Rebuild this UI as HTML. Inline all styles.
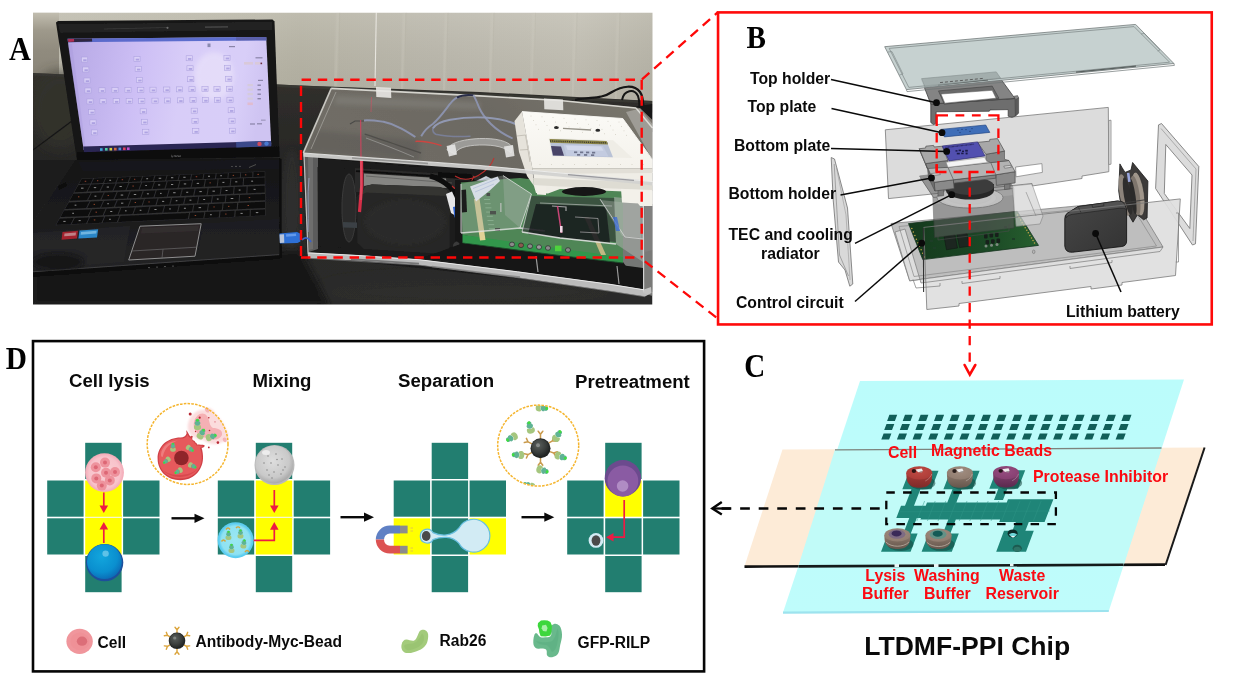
<!DOCTYPE html>
<html>
<head>
<meta charset="utf-8">
<title>LTDMF-PPI figure</title>
<style>
html,body{margin:0;padding:0;background:#fff;}
body{width:1241px;height:683px;overflow:hidden;font-family:"Liberation Sans",sans-serif;}
svg{display:block;}
.sb{font-family:"Liberation Serif",serif;font-weight:bold;fill:#000;}
.lb{font-family:"Liberation Sans",sans-serif;font-weight:bold;fill:#0a0a0a;font-size:15.75px;}
.lr{font-family:"Liberation Sans",sans-serif;font-weight:bold;fill:#fb0a12;font-size:15.9px;}
.hd{font-family:"Liberation Sans",sans-serif;font-weight:bold;fill:#0a0a0a;font-size:18.63px;}
.lg{font-family:"Liberation Sans",sans-serif;font-weight:bold;fill:#0a0a0a;font-size:15.6px;}
</style>
</head>
<body>
<svg width="1241" height="683" viewBox="0 0 1241 683">
<defs>
<filter id="b1" x="-10%" y="-10%" width="120%" height="120%"><feGaussianBlur stdDeviation="0.6"/></filter>
<filter id="b2" x="-10%" y="-10%" width="120%" height="120%"><feGaussianBlur stdDeviation="1.2"/></filter>
<filter id="b3" x="-20%" y="-20%" width="140%" height="140%"><feGaussianBlur stdDeviation="2.5"/></filter>
<filter id="b6" x="-30%" y="-30%" width="160%" height="160%"><feGaussianBlur stdDeviation="6"/></filter>
<filter id="bA" x="0" y="0" width="100%" height="100%" filterUnits="userSpaceOnUse"><feGaussianBlur stdDeviation="0.55"/></filter>
<clipPath id="photoClip"><rect x="33" y="12.5" width="619.5" height="292"/></clipPath>
</defs>
<rect x="0" y="0" width="1241" height="683" fill="#ffffff"/>
<g id="panelA" clip-path="url(#photoClip)"><g filter="url(#bA)">
<defs>
<linearGradient id="wallG" x1="0" y1="0" x2="1" y2="0"><stop offset="0" stop-color="#c0bdaf"/><stop offset="0.38" stop-color="#bab7a8"/><stop offset="0.43" stop-color="#b7b4a5"/><stop offset="0.65" stop-color="#bcb9ad"/><stop offset="0.88" stop-color="#c3c0b4"/><stop offset="1" stop-color="#b9b6a9"/></linearGradient>
<linearGradient id="wallL" x1="0" y1="0" x2="0" y2="1"><stop offset="0" stop-color="#c2beb0"/><stop offset="0.28" stop-color="#9e998b"/><stop offset="0.6" stop-color="#908b7e"/><stop offset="1" stop-color="#8a8578"/></linearGradient>
<linearGradient id="wallV" x1="0" y1="0" x2="0" y2="1"><stop offset="0" stop-color="#ffffff" stop-opacity="0.10"/><stop offset="1" stop-color="#000000" stop-opacity="0.05"/></linearGradient>
<linearGradient id="tableG" x1="0" y1="0" x2="0" y2="1"><stop offset="0" stop-color="#32302c"/><stop offset="0.4" stop-color="#262625"/><stop offset="1" stop-color="#2b2b2a"/></linearGradient>
<linearGradient id="scrG" x1="0" y1="0" x2="1" y2="0.1"><stop offset="0" stop-color="#b6a8e4"/><stop offset="0.17" stop-color="#c0b2ec"/><stop offset="0.37" stop-color="#cdbff5"/><stop offset="0.6" stop-color="#d8cdf8"/><stop offset="0.88" stop-color="#d8cef8"/><stop offset="1" stop-color="#cfc4f2"/></linearGradient>
<linearGradient id="baseG" x1="0" y1="0" x2="0" y2="1"><stop offset="0" stop-color="#141416"/><stop offset="0.6" stop-color="#1d1d1f"/><stop offset="1" stop-color="#242426"/></linearGradient>
<linearGradient id="lidTop" x1="0" y1="0.3" x2="1" y2="0"><stop offset="0" stop-color="#706d66"/><stop offset="0.5" stop-color="#6c6962"/><stop offset="1" stop-color="#7b786f"/></linearGradient>
<linearGradient id="holdG" x1="0" y1="0" x2="0" y2="1"><stop offset="0" stop-color="#fbfaf6"/><stop offset="1" stop-color="#f4f2ec"/></linearGradient>
</defs>
<rect x="33" y="12.5" width="620" height="100" fill="url(#wallG)"/>
<rect x="33" y="12.5" width="620" height="100" fill="url(#wallV)"/>
<rect x="33" y="12.5" width="26" height="64" fill="url(#wallL)"/>
<line x1="338.1" y1="12" x2="335.1" y2="100" stroke="#cfccc1" stroke-width="2.4" opacity="0.45" filter="url(#b2)"/>
<line x1="339.8" y1="12" x2="336.8" y2="100" stroke="#b0ad9f" stroke-width="1.4" opacity="0.16" filter="url(#b1)"/>
<line x1="404.5" y1="12" x2="401.5" y2="100" stroke="#cfccc1" stroke-width="2.4" opacity="0.45" filter="url(#b2)"/>
<line x1="406.2" y1="12" x2="403.2" y2="100" stroke="#b0ad9f" stroke-width="1.4" opacity="0.16" filter="url(#b1)"/>
<line x1="446.5" y1="12" x2="443.5" y2="100" stroke="#cfccc1" stroke-width="2.4" opacity="0.45" filter="url(#b2)"/>
<line x1="448.2" y1="12" x2="445.2" y2="100" stroke="#b0ad9f" stroke-width="1.4" opacity="0.16" filter="url(#b1)"/>
<line x1="492.5" y1="12" x2="489.5" y2="100" stroke="#cfccc1" stroke-width="2.4" opacity="0.45" filter="url(#b2)"/>
<line x1="494.2" y1="12" x2="491.2" y2="100" stroke="#b0ad9f" stroke-width="1.4" opacity="0.16" filter="url(#b1)"/>
<line x1="534.0" y1="12" x2="531.0" y2="100" stroke="#cfccc1" stroke-width="2.4" opacity="0.45" filter="url(#b2)"/>
<line x1="535.7" y1="12" x2="532.7" y2="100" stroke="#b0ad9f" stroke-width="1.4" opacity="0.16" filter="url(#b1)"/>
<line x1="575.5" y1="12" x2="572.5" y2="100" stroke="#cfccc1" stroke-width="2.4" opacity="0.45" filter="url(#b2)"/>
<line x1="577.2" y1="12" x2="574.2" y2="100" stroke="#b0ad9f" stroke-width="1.4" opacity="0.16" filter="url(#b1)"/>
<line x1="618.5" y1="12" x2="615.5" y2="100" stroke="#cfccc1" stroke-width="2.4" opacity="0.45" filter="url(#b2)"/>
<line x1="620.2" y1="12" x2="617.2" y2="100" stroke="#b0ad9f" stroke-width="1.4" opacity="0.16" filter="url(#b1)"/>
<path d="M376.3 12.0 L375.0 86.0" fill="none" stroke="#eceae4" stroke-width="1.1" opacity="0.9" />
<path d="M33.0 73.0 L120.0 77.0 L300.0 85.5 L480.0 92.0 L652.5 101.0 L652.5 305.0 L33.0 305.0 Z" fill="url(#tableG)" />
<path d="M33.0 73.0 L300.0 85.5 L652.5 101.0 L652.5 103.5 L300.0 88.0 L33.0 75.5 Z" fill="#3a3936" opacity="0.8" />
<path d="M33.0 262.0 L300.0 250.0 L330.0 305.0 L33.0 305.0 Z" fill="#161616" opacity="0.85" filter="url(#b3)"/>
<ellipse cx="470" cy="292" rx="150" ry="16" fill="#3a3a3a" opacity="0.18" filter="url(#b6)"/>
<ellipse cx="60" cy="110" rx="30" ry="40" fill="#35342f" opacity="0.6" filter="url(#b6)"/>
<ellipse cx="292" cy="200" rx="10" ry="50" fill="#303030" opacity="0.6" filter="url(#b3)"/>
<path d="M628.0 108.0 L652.5 104.0 L652.5 132.0 L640.0 134.0 L631.0 122.0 Z" fill="#151515" />
<path d="M575 100 C590 96 600 100 612 92 C622 86 634 84 640 92 C646 100 640 112 648 118" fill="none" stroke="#141414" stroke-width="2.2"/>
<path d="M622 100 C624 90 634 88 638 96 C642 108 636 118 642 128" fill="none" stroke="#141414" stroke-width="2"/>
<path d="M56.0 22.5 L58.0 21.0 L272.5 19.5 L274.5 21.5 L279.5 157.0 L77.0 160.5 Z" fill="#131313" />
<path d="M58.0 24.0 L272.0 21.5 L272.6 30.0 L60.0 33.0 Z" fill="#262626" opacity="0.7" />
<path d="M104.0 29.0 L168.0 27.5" fill="none" stroke="#3c3c3c" stroke-width="1.2" opacity="0.8" />
<path d="M205.0 27.2 L228.0 26.8" fill="none" stroke="#5a5a5a" stroke-width="1.2" opacity="0.8" />
<circle cx="167.5" cy="27.8" r="1.1" fill="#6a6a6a"/>
<path d="M67.5 38.7 L266.2 37.0 L271.2 144.5 L83.7 150.0 Z" fill="url(#scrG)" />
<path d="M67.5 38.7 L266.2 37.0 L266.4 40.4 L68.0 42.2 Z" fill="#4f63c8" opacity="0.9" />
<path d="M67.5 38.7 L92.0 38.5 L92.2 41.6 L68.0 42.2 Z" fill="#2a2030" opacity="0.9" />
<path d="M68.0 39.0 L74.0 38.9 L74.2 41.6 L68.3 41.9 Z" fill="#c0305a" opacity="0.9" />
<path d="M236.0 37.3 L266.2 37.0 L266.4 40.2 L236.2 40.5 Z" fill="#5a5a9a" opacity="0.7" />
<ellipse cx="214" cy="76" rx="20" ry="24" fill="#efe8fb" opacity="0.55" filter="url(#b3)"/>
<path d="M67.8 44.0 L72.0 44.0 L86.0 150.0 L83.7 150.0 Z" fill="#a596da" opacity="0.35" filter="url(#b1)"/>
<path d="M83.2 146.6 L271.0 141.0 L271.3 146.3 L83.9 152.3 Z" fill="#2c2552" />
<path d="M236.0 142.0 L271.0 141.0 L271.3 146.3 L236.3 147.4 Z" fill="#3a4a8a" />
<circle cx="259.5" cy="143.9" r="2.2" fill="#d04a5a"/><circle cx="266.5" cy="143.6" r="2.2" fill="#4a7ad0"/>
<rect x="100.0" y="148.2" width="2.6" height="2.6" fill="#3fa7d6"/>
<rect x="105.0" y="148.0" width="2.6" height="2.6" fill="#4fd0a0"/>
<rect x="109.5" y="147.9" width="2.6" height="2.6" fill="#d0d040"/>
<rect x="114.0" y="147.8" width="2.6" height="2.6" fill="#d06a40"/>
<rect x="118.5" y="147.6" width="2.6" height="2.6" fill="#5090e0"/>
<rect x="123.0" y="147.5" width="2.6" height="2.6" fill="#e04060"/>
<rect x="127.0" y="147.4" width="2.6" height="2.6" fill="#c050d0"/>
<g opacity="0.85"><rect x="81.40" y="57.00" width="6.2" height="5" fill="#ddd4f8" stroke="#a89ddc" stroke-width="0.6"/><rect x="83.20" y="59.30" width="3.4" height="1.8" fill="#a99ee0"/><rect x="133.90" y="56.37" width="6.2" height="5" fill="#ddd4f8" stroke="#a89ddc" stroke-width="0.6"/><rect x="135.70" y="58.67" width="3.4" height="1.8" fill="#a99ee0"/><rect x="186.15" y="55.74" width="6.2" height="5" fill="#ddd4f8" stroke="#a89ddc" stroke-width="0.6"/><rect x="187.95" y="58.04" width="3.4" height="1.8" fill="#a99ee0"/><rect x="223.90" y="55.29" width="6.2" height="5" fill="#ddd4f8" stroke="#a89ddc" stroke-width="0.6"/><rect x="225.70" y="57.59" width="3.4" height="1.8" fill="#a99ee0"/><rect x="82.65" y="66.98" width="6.2" height="5" fill="#ddd4f8" stroke="#a89ddc" stroke-width="0.6"/><rect x="84.45" y="69.28" width="3.4" height="1.8" fill="#a99ee0"/><rect x="135.15" y="66.36" width="6.2" height="5" fill="#ddd4f8" stroke="#a89ddc" stroke-width="0.6"/><rect x="136.95" y="68.66" width="3.4" height="1.8" fill="#a99ee0"/><rect x="186.90" y="65.73" width="6.2" height="5" fill="#ddd4f8" stroke="#a89ddc" stroke-width="0.6"/><rect x="188.70" y="68.03" width="3.4" height="1.8" fill="#a99ee0"/><rect x="224.40" y="65.28" width="6.2" height="5" fill="#ddd4f8" stroke="#a89ddc" stroke-width="0.6"/><rect x="226.20" y="67.58" width="3.4" height="1.8" fill="#a99ee0"/><rect x="83.90" y="77.97" width="6.2" height="5" fill="#ddd4f8" stroke="#a89ddc" stroke-width="0.6"/><rect x="85.70" y="80.27" width="3.4" height="1.8" fill="#a99ee0"/><rect x="136.40" y="77.34" width="6.2" height="5" fill="#ddd4f8" stroke="#a89ddc" stroke-width="0.6"/><rect x="138.20" y="79.64" width="3.4" height="1.8" fill="#a99ee0"/><rect x="187.65" y="76.72" width="6.2" height="5" fill="#ddd4f8" stroke="#a89ddc" stroke-width="0.6"/><rect x="189.45" y="79.02" width="3.4" height="1.8" fill="#a99ee0"/><rect x="225.65" y="76.27" width="6.2" height="5" fill="#ddd4f8" stroke="#a89ddc" stroke-width="0.6"/><rect x="227.45" y="78.57" width="3.4" height="1.8" fill="#a99ee0"/><rect x="84.90" y="87.96" width="6.2" height="5" fill="#ddd4f8" stroke="#a89ddc" stroke-width="0.6"/><rect x="86.70" y="90.26" width="3.4" height="1.8" fill="#a99ee0"/><rect x="98.90" y="87.79" width="6.2" height="5" fill="#ddd4f8" stroke="#a89ddc" stroke-width="0.6"/><rect x="100.70" y="90.09" width="3.4" height="1.8" fill="#a99ee0"/><rect x="111.90" y="87.63" width="6.2" height="5" fill="#ddd4f8" stroke="#a89ddc" stroke-width="0.6"/><rect x="113.70" y="89.93" width="3.4" height="1.8" fill="#a99ee0"/><rect x="124.90" y="87.48" width="6.2" height="5" fill="#ddd4f8" stroke="#a89ddc" stroke-width="0.6"/><rect x="126.70" y="89.78" width="3.4" height="1.8" fill="#a99ee0"/><rect x="137.65" y="87.33" width="6.2" height="5" fill="#ddd4f8" stroke="#a89ddc" stroke-width="0.6"/><rect x="139.45" y="89.62" width="3.4" height="1.8" fill="#a99ee0"/><rect x="149.90" y="87.18" width="6.2" height="5" fill="#ddd4f8" stroke="#a89ddc" stroke-width="0.6"/><rect x="151.70" y="89.48" width="3.4" height="1.8" fill="#a99ee0"/><rect x="163.65" y="87.01" width="6.2" height="5" fill="#ddd4f8" stroke="#a89ddc" stroke-width="0.6"/><rect x="165.45" y="89.31" width="3.4" height="1.8" fill="#a99ee0"/><rect x="176.40" y="86.86" width="6.2" height="5" fill="#ddd4f8" stroke="#a89ddc" stroke-width="0.6"/><rect x="178.20" y="89.16" width="3.4" height="1.8" fill="#a99ee0"/><rect x="188.90" y="86.71" width="6.2" height="5" fill="#ddd4f8" stroke="#a89ddc" stroke-width="0.6"/><rect x="190.70" y="89.01" width="3.4" height="1.8" fill="#a99ee0"/><rect x="201.90" y="86.55" width="6.2" height="5" fill="#ddd4f8" stroke="#a89ddc" stroke-width="0.6"/><rect x="203.70" y="88.85" width="3.4" height="1.8" fill="#a99ee0"/><rect x="213.90" y="86.41" width="6.2" height="5" fill="#ddd4f8" stroke="#a89ddc" stroke-width="0.6"/><rect x="215.70" y="88.71" width="3.4" height="1.8" fill="#a99ee0"/><rect x="226.40" y="86.26" width="6.2" height="5" fill="#ddd4f8" stroke="#a89ddc" stroke-width="0.6"/><rect x="228.20" y="88.56" width="3.4" height="1.8" fill="#a99ee0"/><rect x="86.90" y="98.93" width="6.2" height="5" fill="#ddd4f8" stroke="#a89ddc" stroke-width="0.6"/><rect x="88.70" y="101.23" width="3.4" height="1.8" fill="#a99ee0"/><rect x="99.90" y="98.78" width="6.2" height="5" fill="#ddd4f8" stroke="#a89ddc" stroke-width="0.6"/><rect x="101.70" y="101.08" width="3.4" height="1.8" fill="#a99ee0"/><rect x="113.15" y="98.62" width="6.2" height="5" fill="#ddd4f8" stroke="#a89ddc" stroke-width="0.6"/><rect x="114.95" y="100.92" width="3.4" height="1.8" fill="#a99ee0"/><rect x="126.15" y="98.46" width="6.2" height="5" fill="#ddd4f8" stroke="#a89ddc" stroke-width="0.6"/><rect x="127.95" y="100.76" width="3.4" height="1.8" fill="#a99ee0"/><rect x="138.65" y="98.31" width="6.2" height="5" fill="#ddd4f8" stroke="#a89ddc" stroke-width="0.6"/><rect x="140.45" y="100.61" width="3.4" height="1.8" fill="#a99ee0"/><rect x="151.90" y="98.15" width="6.2" height="5" fill="#ddd4f8" stroke="#a89ddc" stroke-width="0.6"/><rect x="153.70" y="100.45" width="3.4" height="1.8" fill="#a99ee0"/><rect x="164.40" y="98.00" width="6.2" height="5" fill="#ddd4f8" stroke="#a89ddc" stroke-width="0.6"/><rect x="166.20" y="100.30" width="3.4" height="1.8" fill="#a99ee0"/><rect x="177.40" y="97.85" width="6.2" height="5" fill="#ddd4f8" stroke="#a89ddc" stroke-width="0.6"/><rect x="179.20" y="100.15" width="3.4" height="1.8" fill="#a99ee0"/><rect x="189.90" y="97.70" width="6.2" height="5" fill="#ddd4f8" stroke="#a89ddc" stroke-width="0.6"/><rect x="191.70" y="100.00" width="3.4" height="1.8" fill="#a99ee0"/><rect x="202.40" y="97.55" width="6.2" height="5" fill="#ddd4f8" stroke="#a89ddc" stroke-width="0.6"/><rect x="204.20" y="99.85" width="3.4" height="1.8" fill="#a99ee0"/><rect x="214.40" y="97.40" width="6.2" height="5" fill="#ddd4f8" stroke="#a89ddc" stroke-width="0.6"/><rect x="216.20" y="99.70" width="3.4" height="1.8" fill="#a99ee0"/><rect x="226.90" y="97.25" width="6.2" height="5" fill="#ddd4f8" stroke="#a89ddc" stroke-width="0.6"/><rect x="228.70" y="99.55" width="3.4" height="1.8" fill="#a99ee0"/><rect x="88.65" y="109.41" width="6.2" height="5" fill="#ddd4f8" stroke="#a89ddc" stroke-width="0.6"/><rect x="90.45" y="111.71" width="3.4" height="1.8" fill="#a99ee0"/><rect x="140.15" y="108.80" width="6.2" height="5" fill="#ddd4f8" stroke="#a89ddc" stroke-width="0.6"/><rect x="141.95" y="111.09" width="3.4" height="1.8" fill="#a99ee0"/><rect x="191.15" y="108.18" width="6.2" height="5" fill="#ddd4f8" stroke="#a89ddc" stroke-width="0.6"/><rect x="192.95" y="110.48" width="3.4" height="1.8" fill="#a99ee0"/><rect x="228.15" y="107.74" width="6.2" height="5" fill="#ddd4f8" stroke="#a89ddc" stroke-width="0.6"/><rect x="229.95" y="110.04" width="3.4" height="1.8" fill="#a99ee0"/><rect x="89.90" y="119.90" width="6.2" height="5" fill="#ddd4f8" stroke="#a89ddc" stroke-width="0.6"/><rect x="91.70" y="122.20" width="3.4" height="1.8" fill="#a99ee0"/><rect x="141.40" y="119.28" width="6.2" height="5" fill="#ddd4f8" stroke="#a89ddc" stroke-width="0.6"/><rect x="143.20" y="121.58" width="3.4" height="1.8" fill="#a99ee0"/><rect x="191.90" y="118.67" width="6.2" height="5" fill="#ddd4f8" stroke="#a89ddc" stroke-width="0.6"/><rect x="193.70" y="120.97" width="3.4" height="1.8" fill="#a99ee0"/><rect x="228.90" y="118.23" width="6.2" height="5" fill="#ddd4f8" stroke="#a89ddc" stroke-width="0.6"/><rect x="230.70" y="120.53" width="3.4" height="1.8" fill="#a99ee0"/><rect x="91.40" y="129.88" width="6.2" height="5" fill="#ddd4f8" stroke="#a89ddc" stroke-width="0.6"/><rect x="93.20" y="132.18" width="3.4" height="1.8" fill="#a99ee0"/><rect x="142.65" y="129.26" width="6.2" height="5" fill="#ddd4f8" stroke="#a89ddc" stroke-width="0.6"/><rect x="144.45" y="131.56" width="3.4" height="1.8" fill="#a99ee0"/><rect x="192.65" y="128.66" width="6.2" height="5" fill="#ddd4f8" stroke="#a89ddc" stroke-width="0.6"/><rect x="194.45" y="130.97" width="3.4" height="1.8" fill="#a99ee0"/><rect x="229.40" y="128.22" width="6.2" height="5" fill="#ddd4f8" stroke="#a89ddc" stroke-width="0.6"/><rect x="231.20" y="130.52" width="3.4" height="1.8" fill="#a99ee0"/></g>
<rect x="244.0" y="62.0" width="9.0" height="2.6" fill="#d9c9d9"/>
<rect x="255.0" y="62.0" width="5.0" height="2.6" fill="#d9c9d9"/>
<rect x="260.5" y="62.6" width="1.6" height="1.6" fill="#6a2a3a"/>
<rect x="247.5" y="84.0" width="5.4" height="2.2" fill="#d5cbdc"/>
<rect x="247.5" y="88.5" width="5.4" height="2.2" fill="#d5cbdc"/>
<rect x="247.5" y="93.0" width="5.4" height="2.2" fill="#d5cbdc"/>
<rect x="247.5" y="97.5" width="5.4" height="2.2" fill="#d5cbdc"/>
<rect x="247.5" y="102.5" width="5.4" height="2.6" fill="#e0bcd0"/>
<rect x="257.5" y="84.5" width="3.4" height="1.4" fill="#8a84a8"/>
<rect x="257.5" y="89.0" width="3.4" height="1.4" fill="#8a84a8"/>
<rect x="257.5" y="93.5" width="3.4" height="1.4" fill="#8a84a8"/>
<rect x="257.5" y="98.0" width="3.4" height="1.4" fill="#8a84a8"/>
<rect x="258.0" y="79.8" width="5.0" height="1.2" fill="#8a84a8"/>
<rect x="255.5" y="57.2" width="7.0" height="1.2" fill="#8a84a8"/>
<rect x="229.0" y="46.0" width="6.0" height="1.2" fill="#8a84a8"/>
<rect x="250.0" y="123.4" width="5.0" height="1.2" fill="#8a84a8"/>
<rect x="257.0" y="123.2" width="5.0" height="1.2" fill="#8a84a8"/>
<rect x="261.0" y="119.6" width="4.6" height="1.1" fill="#9a94b8"/>
<rect x="207.5" y="43.5" width="3.0" height="3.6" fill="#8a8ab0"/>
<path d="M77.0 152.5 L279.3 146.8 L279.5 157.0 L77.0 160.5 Z" fill="#0f0f10" />
<text x="171" y="157.2" font-family="Liberation Sans, sans-serif" font-size="3.4" fill="#8a8a8a" transform="rotate(-1.6 171 157)">lenovo</text>
<path d="M75.0 160.0 L279.0 158.0 L279.5 255.5 L33.0 273.5 L33.0 222.0 Z" fill="url(#baseG)" />
<path d="M33.0 272.0 L279.5 254.5 L279.8 259.0 L33.0 277.0 Z" fill="#0c0c0c" />
<path d="M33.0 271.8 L279.5 254.6" fill="none" stroke="#4a4a4c" stroke-width="0.9" opacity="0.9" />
<path d="M279.0 158.0 L281.5 159.0 L281.8 257.5 L279.5 258.5 Z" fill="#0b0b0b" />
<path d="M33.0 233.0 L130.0 226.0 L124.0 262.0 L33.0 269.0 Z" fill="#2a2a2c" opacity="0.55" />
<path d="M203.0 223.5 L279.0 219.0 L279.3 252.0 L197.0 258.0 Z" fill="#222224" opacity="0.6" />
<ellipse cx="58" cy="262" rx="26" ry="9" fill="#0a0a0a" opacity="0.6" filter="url(#b3)"/>
<path d="M78.0 161.5 L279.0 159.5 L279.0 169.0 L83.0 171.5 Z" fill="#19191b" />
<g fill="#7a7a7a"><circle cx="232" cy="166.5" r="0.6"/><circle cx="236" cy="166.4" r="0.6"/><circle cx="240" cy="166.3" r="0.6"/></g>
<path d="M249.0 167.5 L256.0 164.5" fill="none" stroke="#5a5a5a" stroke-width="0.8" />
<path d="M81.5 178.6 L265.2 171.3 L265.6 215.6 L55.5 225.2 Z" fill="#303032" />
<path d="M81.8 179.0 L93.0 178.5 L90.5 183.4 L79.0 183.9 Z M94.1 178.5 L105.3 178.0 L102.9 182.9 L91.5 183.4 Z M106.3 178.0 L117.6 177.5 L115.3 182.4 L103.9 182.9 Z M118.6 177.5 L129.8 177.1 L127.8 181.9 L116.4 182.4 Z M130.8 177.0 L142.1 176.6 L140.2 181.4 L128.8 181.9 Z M143.1 176.5 L154.3 176.1 L152.7 180.9 L141.3 181.4 Z M155.4 176.0 L166.6 175.6 L165.1 180.4 L153.7 180.9 Z M167.6 175.6 L178.9 175.1 L177.6 179.9 L166.2 180.4 Z M179.9 175.1 L191.1 174.6 L190.0 179.4 L178.6 179.9 Z M192.1 174.6 L203.4 174.1 L202.5 178.9 L191.1 179.4 Z M204.4 174.1 L215.6 173.6 L214.9 178.4 L203.5 178.9 Z M216.7 173.6 L227.9 173.2 L227.4 177.9 L216.0 178.4 Z M228.9 173.1 L240.2 172.7 L239.8 177.4 L228.4 177.9 Z M241.2 172.6 L252.4 172.2 L252.3 176.9 L240.9 177.4 Z M253.5 172.1 L264.7 171.7 L264.7 176.4 L253.3 176.9 Z M78.5 185.0 L90.2 184.5 L86.4 191.7 L74.4 192.2 Z M91.2 184.5 L102.9 184.0 L99.4 191.1 L87.5 191.6 Z M103.9 183.9 L115.6 183.5 L112.4 190.6 L100.5 191.1 Z M116.7 183.4 L128.4 182.9 L125.5 190.1 L113.5 190.6 Z M129.4 182.9 L141.1 182.4 L138.5 189.5 L126.5 190.0 Z M142.2 182.4 L153.9 181.9 L151.5 189.0 L139.6 189.5 Z M154.9 181.9 L166.6 181.4 L164.5 188.4 L152.6 188.9 Z M167.7 181.3 L179.4 180.9 L177.5 187.9 L165.6 188.4 Z M180.4 180.8 L192.1 180.4 L190.6 187.3 L178.6 187.8 Z M193.1 180.3 L204.8 179.8 L203.6 186.8 L191.6 187.3 Z M205.9 179.8 L217.6 179.3 L216.6 186.3 L204.7 186.8 Z M218.6 179.3 L230.3 178.8 L229.6 185.7 L217.7 186.2 Z M231.4 178.8 L243.1 178.3 L242.6 185.2 L230.7 185.7 Z M244.1 178.2 L264.7 177.4 L264.8 184.3 L243.7 185.1 Z M73.5 193.8 L90.7 193.1 L87.1 200.1 L69.6 200.8 Z M91.7 193.0 L103.7 192.6 L100.4 199.5 L88.2 200.0 Z M104.7 192.5 L116.6 192.0 L113.6 198.9 L101.5 199.4 Z M117.7 192.0 L129.6 191.5 L126.9 198.4 L114.7 198.9 Z M130.7 191.4 L142.6 190.9 L140.2 197.8 L128.0 198.3 Z M143.7 190.9 L155.6 190.4 L153.4 197.2 L141.3 197.7 Z M156.7 190.3 L168.6 189.8 L166.7 196.7 L154.5 197.2 Z M169.7 189.8 L181.6 189.3 L180.0 196.1 L167.8 196.6 Z M182.7 189.2 L194.6 188.7 L193.2 195.5 L181.1 196.0 Z M195.7 188.7 L207.6 188.2 L206.5 195.0 L194.3 195.5 Z M208.7 188.2 L220.6 187.7 L219.7 194.4 L207.6 194.9 Z M221.7 187.6 L233.6 187.1 L233.0 193.8 L220.8 194.3 Z M234.7 187.1 L246.6 186.6 L246.3 193.3 L234.1 193.8 Z M247.7 186.5 L264.8 185.8 L264.8 192.5 L247.4 193.2 Z M68.8 202.4 L89.4 201.5 L86.1 208.1 L65.1 209.0 Z M90.5 201.5 L103.0 200.9 L100.0 207.5 L87.3 208.0 Z M104.1 200.9 L116.6 200.3 L113.9 206.8 L101.1 207.4 Z M117.7 200.3 L130.2 199.8 L127.7 206.2 L115.0 206.8 Z M131.3 199.7 L143.8 199.2 L141.6 205.6 L128.8 206.2 Z M144.9 199.1 L157.4 198.6 L155.4 205.0 L142.7 205.6 Z M158.5 198.5 L171.0 198.0 L169.3 204.4 L156.6 205.0 Z M172.1 198.0 L184.6 197.4 L183.1 203.8 L170.4 204.4 Z M185.7 197.4 L198.2 196.8 L197.0 203.2 L184.3 203.8 Z M199.3 196.8 L211.8 196.2 L210.9 202.6 L198.1 203.2 Z M212.9 196.2 L225.4 195.7 L224.7 202.0 L212.0 202.6 Z M226.5 195.6 L239.0 195.1 L238.6 201.4 L225.8 201.9 Z M240.1 195.0 L264.9 194.0 L264.9 200.2 L239.7 201.3 Z M64.2 210.6 L90.9 209.4 L87.7 215.9 L60.6 217.1 Z M92.0 209.3 L105.5 208.7 L102.6 215.3 L88.9 215.9 Z M106.6 208.7 L120.1 208.1 L117.5 214.6 L103.8 215.2 Z M121.3 208.0 L134.8 207.4 L132.4 213.9 L118.6 214.5 Z M135.9 207.4 L149.4 206.8 L147.3 213.3 L133.5 213.9 Z M150.5 206.8 L164.0 206.2 L162.2 212.6 L148.4 213.2 Z M165.1 206.1 L178.6 205.5 L177.1 211.9 L163.3 212.5 Z M179.8 205.5 L193.3 204.9 L192.0 211.3 L178.2 211.9 Z M194.4 204.8 L207.9 204.2 L206.9 210.6 L193.1 211.2 Z M209.0 204.2 L222.5 203.6 L221.8 209.9 L208.0 210.5 Z M223.6 203.5 L237.1 202.9 L236.7 209.3 L222.9 209.9 Z M238.3 202.9 L264.9 201.7 L265.0 208.0 L237.8 209.2 Z M59.7 218.7 L73.7 218.0 L70.5 224.2 L56.3 224.8 Z M74.9 218.0 L88.9 217.4 L86.0 223.5 L71.7 224.1 Z M90.1 217.3 L104.1 216.7 L101.4 222.8 L87.1 223.4 Z M105.2 216.6 L119.3 216.0 L116.8 222.1 L102.6 222.7 Z M120.4 215.9 L189.1 212.9 L187.8 218.8 L118.0 222.0 Z M190.2 212.8 L204.3 212.2 L203.3 218.1 L189.0 218.8 Z M205.4 212.1 L219.4 211.5 L218.7 217.4 L204.4 218.1 Z M220.6 211.4 L234.6 210.8 L234.1 216.7 L219.9 217.4 Z M235.8 210.8 L249.8 210.1 L249.6 216.0 L235.3 216.7 Z M250.9 210.1 L265.0 209.4 L265.0 215.3 L250.7 216.0 Z" fill="#0d0d0e"/>
<g><rect x="84.7" y="180.8" width="1.5" height="0.9" fill="#d0603a" opacity="0.75"/><rect x="97.0" y="180.3" width="1.3" height="0.9" fill="#d0603a" opacity="0.75"/><rect x="109.3" y="179.8" width="1.8" height="0.9" fill="#c9c9c9" opacity="0.75"/><rect x="121.7" y="179.3" width="1.4" height="0.9" fill="#d0603a" opacity="0.75"/><rect x="134.0" y="178.8" width="1.3" height="0.9" fill="#d0603a" opacity="0.75"/><rect x="146.3" y="178.3" width="1.8" height="0.9" fill="#c9c9c9" opacity="0.75"/><rect x="158.7" y="177.8" width="2.5" height="0.9" fill="#c9c9c9" opacity="0.75"/><rect x="171.0" y="177.3" width="2.3" height="0.9" fill="#c9c9c9" opacity="0.75"/><rect x="183.3" y="176.8" width="2.3" height="0.9" fill="#c9c9c9" opacity="0.75"/><rect x="195.7" y="176.3" width="1.5" height="0.9" fill="#d0603a" opacity="0.75"/><rect x="208.0" y="175.8" width="2.0" height="0.9" fill="#c9c9c9" opacity="0.75"/><rect x="220.3" y="175.3" width="1.6" height="0.9" fill="#c9c9c9" opacity="0.75"/><rect x="232.7" y="174.9" width="1.4" height="0.9" fill="#d0603a" opacity="0.75"/><rect x="245.0" y="174.4" width="1.3" height="0.9" fill="#d0603a" opacity="0.75"/><rect x="257.4" y="173.9" width="1.5" height="0.9" fill="#d0603a" opacity="0.75"/><rect x="81.0" y="187.7" width="2.5" height="0.9" fill="#c9c9c9" opacity="0.75"/><rect x="93.8" y="187.2" width="2.4" height="0.9" fill="#c9c9c9" opacity="0.75"/><rect x="106.7" y="186.6" width="2.3" height="0.9" fill="#c9c9c9" opacity="0.75"/><rect x="119.5" y="186.1" width="2.3" height="0.9" fill="#c9c9c9" opacity="0.75"/><rect x="132.4" y="185.6" width="1.5" height="0.9" fill="#d0603a" opacity="0.75"/><rect x="145.3" y="185.0" width="1.6" height="0.9" fill="#c9c9c9" opacity="0.75"/><rect x="158.1" y="184.5" width="2.1" height="0.9" fill="#c9c9c9" opacity="0.75"/><rect x="171.0" y="184.0" width="2.2" height="0.9" fill="#c9c9c9" opacity="0.75"/><rect x="183.8" y="183.5" width="2.4" height="0.9" fill="#c9c9c9" opacity="0.75"/><rect x="196.7" y="182.9" width="2.4" height="0.9" fill="#c9c9c9" opacity="0.75"/><rect x="209.5" y="182.4" width="1.3" height="0.9" fill="#d0603a" opacity="0.75"/><rect x="222.4" y="181.9" width="2.0" height="0.9" fill="#c9c9c9" opacity="0.75"/><rect x="235.2" y="181.4" width="2.1" height="0.9" fill="#c9c9c9" opacity="0.75"/><rect x="251.2" y="180.7" width="1.9" height="0.9" fill="#c9c9c9" opacity="0.75"/><rect x="78.0" y="196.4" width="1.4" height="0.9" fill="#d0603a" opacity="0.75"/><rect x="94.5" y="195.7" width="1.9" height="0.9" fill="#c9c9c9" opacity="0.75"/><rect x="107.6" y="195.1" width="1.3" height="0.9" fill="#d0603a" opacity="0.75"/><rect x="120.7" y="194.6" width="2.5" height="0.9" fill="#c9c9c9" opacity="0.75"/><rect x="133.8" y="194.0" width="2.4" height="0.9" fill="#c9c9c9" opacity="0.75"/><rect x="146.9" y="193.4" width="2.0" height="0.9" fill="#c9c9c9" opacity="0.75"/><rect x="160.0" y="192.9" width="1.6" height="0.9" fill="#c9c9c9" opacity="0.75"/><rect x="173.1" y="192.3" width="2.5" height="0.9" fill="#c9c9c9" opacity="0.75"/><rect x="186.2" y="191.8" width="2.0" height="0.9" fill="#c9c9c9" opacity="0.75"/><rect x="199.4" y="191.2" width="2.4" height="0.9" fill="#c9c9c9" opacity="0.75"/><rect x="212.5" y="190.7" width="2.4" height="0.9" fill="#c9c9c9" opacity="0.75"/><rect x="225.6" y="190.1" width="1.9" height="0.9" fill="#c9c9c9" opacity="0.75"/><rect x="238.7" y="189.6" width="1.8" height="0.9" fill="#c9c9c9" opacity="0.75"/><rect x="253.6" y="188.9" width="2.0" height="0.9" fill="#c9c9c9" opacity="0.75"/><rect x="74.6" y="204.7" width="1.8" height="0.9" fill="#c9c9c9" opacity="0.75"/><rect x="93.6" y="203.9" width="1.4" height="0.9" fill="#d0603a" opacity="0.75"/><rect x="107.3" y="203.3" width="1.6" height="0.9" fill="#c9c9c9" opacity="0.75"/><rect x="121.0" y="202.7" width="2.3" height="0.9" fill="#c9c9c9" opacity="0.75"/><rect x="134.7" y="202.1" width="1.3" height="0.9" fill="#d0603a" opacity="0.75"/><rect x="148.4" y="201.5" width="1.3" height="0.9" fill="#d0603a" opacity="0.75"/><rect x="162.1" y="200.9" width="2.1" height="0.9" fill="#c9c9c9" opacity="0.75"/><rect x="175.8" y="200.3" width="1.6" height="0.9" fill="#c9c9c9" opacity="0.75"/><rect x="189.5" y="199.7" width="1.9" height="0.9" fill="#c9c9c9" opacity="0.75"/><rect x="203.2" y="199.1" width="1.9" height="0.9" fill="#c9c9c9" opacity="0.75"/><rect x="216.9" y="198.6" width="1.7" height="0.9" fill="#c9c9c9" opacity="0.75"/><rect x="230.7" y="198.0" width="2.6" height="0.9" fill="#c9c9c9" opacity="0.75"/><rect x="248.7" y="197.2" width="1.5" height="0.9" fill="#d0603a" opacity="0.75"/><rect x="72.2" y="212.8" width="1.8" height="0.9" fill="#c9c9c9" opacity="0.75"/><rect x="95.5" y="211.7" width="1.5" height="0.9" fill="#d0603a" opacity="0.75"/><rect x="110.2" y="211.1" width="2.1" height="0.9" fill="#c9c9c9" opacity="0.75"/><rect x="125.0" y="210.4" width="1.6" height="0.9" fill="#c9c9c9" opacity="0.75"/><rect x="139.7" y="209.8" width="1.7" height="0.9" fill="#c9c9c9" opacity="0.75"/><rect x="154.4" y="209.1" width="2.2" height="0.9" fill="#c9c9c9" opacity="0.75"/><rect x="169.2" y="208.5" width="1.6" height="0.9" fill="#c9c9c9" opacity="0.75"/><rect x="183.9" y="207.8" width="2.0" height="0.9" fill="#c9c9c9" opacity="0.75"/><rect x="198.6" y="207.2" width="2.5" height="0.9" fill="#c9c9c9" opacity="0.75"/><rect x="213.4" y="206.5" width="1.3" height="0.9" fill="#d0603a" opacity="0.75"/><rect x="228.1" y="205.9" width="1.3" height="0.9" fill="#d0603a" opacity="0.75"/><rect x="247.5" y="205.0" width="1.5" height="0.9" fill="#d0603a" opacity="0.75"/><rect x="63.3" y="220.9" width="2.3" height="0.9" fill="#c9c9c9" opacity="0.75"/><rect x="78.6" y="220.2" width="2.1" height="0.9" fill="#c9c9c9" opacity="0.75"/><rect x="93.8" y="219.5" width="1.5" height="0.9" fill="#d0603a" opacity="0.75"/><rect x="109.1" y="218.8" width="1.7" height="0.9" fill="#c9c9c9" opacity="0.75"/><rect x="194.7" y="215.0" width="1.4" height="0.9" fill="#d0603a" opacity="0.75"/><rect x="210.0" y="214.3" width="1.8" height="0.9" fill="#c9c9c9" opacity="0.75"/><rect x="225.2" y="213.6" width="1.3" height="0.9" fill="#d0603a" opacity="0.75"/><rect x="240.5" y="212.9" width="2.2" height="0.9" fill="#c9c9c9" opacity="0.75"/><rect x="255.8" y="212.2" width="2.5" height="0.9" fill="#c9c9c9" opacity="0.75"/></g>
<path d="M140.0 226.2 L201.2 223.7 L195.0 256.2 L128.7 260.0 Z" fill="#2a2527" stroke="#8f8f8f" stroke-width="1.0" />
<path d="M131.5 251.0 L196.5 247.2" fill="none" stroke="#6a6a6a" stroke-width="0.7" />
<path d="M163.0 249.3 L162.0 258.0" fill="none" stroke="#6a6a6a" stroke-width="0.7" />
<path d="M142.0 228.0 L199.0 225.6 L198.0 231.0 L141.0 233.6 Z" fill="#3a3436" opacity="0.6" />
<path d="M62.5 232.0 L78.0 230.8 L77.0 238.6 L61.5 239.8 Z" fill="#a3232f" />
<path d="M64.5 233.4 L76.0 232.6 L75.6 235.4 L64.2 236.2 Z" fill="#d8d0d0" opacity="0.55" />
<path d="M79.5 230.6 L98.2 229.2 L97.0 237.4 L78.4 238.6 Z" fill="#2b86c8" />
<path d="M81.0 232.0 L96.6 230.8 L96.2 233.6 L80.7 234.8 Z" fill="#9fd4f0" opacity="0.6" />
<g fill="#a0a0a0"><circle cx="149" cy="267.6" r="0.6"/><circle cx="157" cy="267" r="0.6"/><circle cx="165" cy="266.5" r="0.6"/><circle cx="173" cy="266" r="0.6"/></g>
<path d="M33.0 160.0 L75.0 160.0 L33.0 222.0 Z" fill="#1f1f1f" />
<path d="M33.0 150.0 L76.0 118.0" fill="none" stroke="#141414" stroke-width="1.3" opacity="0.9" />
<path d="M58.0 186.0 L66.0 182.0 L67.0 186.0 L59.0 190.0 Z" fill="#0e0e0e" />
<path d="M279.5 233.5 L297.0 232.0 L300.0 233.4 L300.4 241.4 L297.5 243.0 L280.0 243.6 Z" fill="#2d6fd6" />
<path d="M279.5 234.5 L284.0 234.2 L284.3 242.8 L279.8 243.0 Z" fill="#b8c4d8" />
<path d="M286.0 234.2 L296.0 233.4 L296.2 236.0 L286.2 236.8 Z" fill="#6fa4f0" opacity="0.8" />
<path d="M303.0 155.0 L652.5 182.0 L652.5 290.0 L560.0 283.0 L307.0 256.0 Z" fill="#1a1a1a" />
<path d="M331.2 88.4 L480.0 95.9 L560.0 100.0 L640.0 108.0 L652.5 120.0 L652.5 182.0 L480.0 165.4 L303.3 152.9 Z" fill="url(#lidTop)" />
<path d="M315.0 130.0 L420.0 140.0 L420.0 162.0 L306.0 152.0 Z" fill="#55534f" opacity="0.4" filter="url(#b3)"/>
<path d="M336.0 96.0 L480.0 102.0 L480.0 110.0 L334.0 104.0 Z" fill="#8c8a84" opacity="0.45" filter="url(#b3)"/>
<path d="M331.2 88.4 L480.0 95.9 L560.0 100.5 L636.0 108.0" fill="none" stroke="#e3e2dc" stroke-width="1.6" opacity="0.9" />
<path d="M331.2 88.4 L303.3 152.9" fill="none" stroke="#dddcd6" stroke-width="1.6" opacity="0.85" />
<path d="M336.0 92.0 L311.0 149.0" fill="none" stroke="#b9b8b2" stroke-width="0.8" opacity="0.7" />
<path d="M376.0 87.0 L391.0 87.8 L391.3 98.0 L376.3 97.0 Z" fill="#e9e8e4" opacity="0.9" />
<path d="M544.0 98.6 L563.0 99.6 L563.3 110.2 L544.3 109.2 Z" fill="#e9e8e4" opacity="0.9" />
<path d="M364 120.4 C372 120 378 121 383.5 121.8 C392 123.5 398 127 401 128.4 C407 131.5 412 135 415.4 137" fill="none" stroke="#8e96b4" stroke-width="2" opacity="0.9"/>
<path d="M421.2 136.3 C424 131 428 127 432.8 124 C440 118 446 109 450.2 103.7 C453 100 457 97 460.4 96.5" fill="none" stroke="#8e96b4" stroke-width="1.9" opacity="0.9"/>
<path d="M457 97.5 C462 94.8 468 94.6 473.4 95.2" fill="none" stroke="#2a2e4a" stroke-width="2"/>
<path d="M473.4 95.2 C476 99 477.5 104 479.3 108 C482 114 486 119 490.9 124 C497 130 505 135 512.6 138.5" fill="none" stroke="#8e96b4" stroke-width="1.9" opacity="0.9"/>
<path d="M432.8 128.4 C436 123 443 121 450.2 119.7 C461 117.8 474 117 485 117.5 C497 118.3 508 121 515.5 124" fill="none" stroke="#959dba" stroke-width="1.9" opacity="0.9"/>
<path d="M432.8 128.4 C432.5 131 433.5 133 435.7 134.2 C446 136.6 459 136.8 470.5 136.3" fill="none" stroke="#7d85a4" stroke-width="1.6" opacity="0.8"/>
<path d="M364.7 134.2 C380 139 400 146 421 153" fill="none" stroke="#4a4846" stroke-width="1.4" opacity="0.8"/>
<path d="M366 138 C382 144 398 150 414 157" fill="none" stroke="#a9a9a6" stroke-width="1.0" opacity="0.6"/>
<path d="M415.4 141.4 C424 141 433 143 441.5 145.6" fill="none" stroke="#d8403c" stroke-width="1.5" opacity="0.9"/>
<path d="M350 124 L355 121 L364 121" fill="none" stroke="#3a3a3a" stroke-width="1.2" opacity="0.7"/>
<path d="M447 150 C449 143 462 139.5 479.3 138.5 C496 138 508 141 512.5 147 L511 153 C506 147.5 495 144.5 479.5 145 C466 145.5 457 148 455 154 Z" fill="#a7a7a4" stroke="#dededc" stroke-width="0.9" opacity="0.8"/>
<path d="M446.6 146 L455 144.3 L457 154.5 L449 156.5 Z" fill="#e6e6e4" opacity="0.9"/><path d="M504 146.5 L513 145 L514.5 156 L506 157.4 Z" fill="#e6e6e4" opacity="0.9"/>
<path d="M303.3 153.5 L318.0 155.0 L318.0 249.0 L307.5 252.5 Z" fill="#5c5c5b" />
<path d="M308.0 156.0 L313.0 156.5 L313.0 249.0 L309.0 250.0 Z" fill="#7a7a7a" opacity="0.6" />
<path d="M304.0 154.0 L308.0 252.0" fill="none" stroke="#cfcfcf" stroke-width="1.2" opacity="0.85" />
<path d="M302 240 C305 236 309 238 311 242" fill="none" stroke="#3a62c8" stroke-width="1.8"/>
<path d="M309 178 C307 196 309 214 308 232" fill="none" stroke="#9aa6c8" stroke-width="1" opacity="0.8"/>
<path d="M317.5 167.0 L358.0 170.0 L358.0 248.0 L318.0 246.0 Z" fill="#1e1e1e" />
<ellipse cx="349" cy="208" rx="7" ry="34" fill="#2a2a2a" stroke="#3a3a3a" stroke-width="1"/>
<path d="M343.0 222.0 L357.0 222.5 L357.0 228.0 L343.0 227.5 Z" fill="#3a4044" />
<path d="M355.0 168.0 L480.0 176.0 L480.0 200.0 L355.0 192.0 Z" fill="#2b2a29" />
<path d="M364.0 173.5 L446.0 178.5 L447.0 188.0 L372.0 184.5 L364.0 186.0 Z" fill="#868683" />
<path d="M356.0 171.0 L470.0 178.5" fill="none" stroke="#111" stroke-width="2.2" />
<path d="M366.0 176.0 L452.0 183.0" fill="none" stroke="#5a5a58" stroke-width="1.0" opacity="0.7" />
<path d="M366.0 186.0 L372.0 184.5 L440.0 187.0 L447.0 190.0 L450.0 198.0 L449.5 250.0 L444.0 254.0 L364.0 249.0 L357.5 243.0 L357.5 196.0 Z" fill="#272726" />
<path d="M366.0 186.0 L372.0 184.5 L440.0 187.0 L447.0 190.0 L449.0 196.0 L366.0 192.5 L359.0 196.0 Z" fill="#363634" opacity="0.95" />
<ellipse cx="405" cy="222" rx="40" ry="22" fill="#2f2f2e" opacity="0.7" filter="url(#b3)"/>
<path d="M361.5 158.0 L361.8 185.0 L359.5 212.0" fill="none" stroke="#e8304a" stroke-width="3.2" opacity="0.9" />
<path d="M360.6 120.0 L361.0 158.0" fill="none" stroke="#d8405e" stroke-width="1.3" opacity="0.75" />
<path d="M361.0 160.0 L361.0 200.0" fill="none" stroke="#ff8aa0" stroke-width="0.7" opacity="0.8" />
<path d="M371.5 97.0 L371.0 112.0" fill="none" stroke="#d05060" stroke-width="1.0" opacity="0.6" />
<path d="M430 176 C445 180 455 190 462 204" fill="none" stroke="#0c0c0c" stroke-width="5"/>
<path d="M438 174 L470 176 L476 186" fill="none" stroke="#0c0c0c" stroke-width="3.5"/>
<path d="M452 186 C462 196 470 186 474 176 M455 176 C470 186 490 170 494 158" fill="none" stroke="#c8302e" stroke-width="1.1" opacity="0.9"/>
<path d="M446.0 194.0 L452.0 191.5 L459.0 207.0 L456.0 216.0 L451.0 213.0 Z" fill="#e6e6e8" />
<path d="M453.0 207.0 L458.0 206.0 L459.5 217.0 L454.5 217.5 Z" fill="#2d62d0" />
<path d="M466.0 186.0 L486.0 176.0 L494.0 180.0 L474.0 198.0 Z" fill="#d4d8e2" opacity="0.95" />
<path d="M470.0 186.0 L488.0 178.0" fill="none" stroke="#9aa4c8" stroke-width="0.6" opacity="0.8" />
<path d="M455.0 180.0 L652.5 186.0 L652.5 292.0 L455.0 262.0 Z" fill="#171717" />
<path d="M460.8 182.6 L520.0 178.0 L623.0 190.0 L623.0 259.0 L560.0 252.0 L462.5 235.0 Z" fill="#508657" />
<path d="M623.0 190.0 L643.0 192.0 L643.0 290.0 L623.0 262.0 Z" fill="#747774" />
<path d="M462.5 234.8 L560.0 248.5 L623.0 257.0 L623.0 263.0 L560.0 255.5 L462.5 243.0 Z" fill="#32964b" />
<path d="M462.5 243.0 L560.0 255.5 L623.0 263.0" fill="none" stroke="#1d4d2b" stroke-width="1.0" opacity="0.9" />
<path d="M474.0 199.0 L479.5 198.5 L485.5 240.0 L480.0 240.5 Z" fill="#e1d296" />
<path d="M584.5 217.0 L589.0 217.0 L606.0 255.0 L601.0 255.0 Z" fill="#cdbf88" opacity="0.9" />
<rect x="484.0" y="199.0" width="6" height="0.9" fill="#a8d8b4" opacity="0.55"/>
<rect x="484.7" y="203.2" width="6" height="0.9" fill="#a8d8b4" opacity="0.55"/>
<rect x="485.4" y="207.4" width="6" height="0.9" fill="#a8d8b4" opacity="0.55"/>
<rect x="486.1" y="211.6" width="6" height="0.9" fill="#a8d8b4" opacity="0.55"/>
<rect x="486.8" y="215.8" width="6" height="0.9" fill="#a8d8b4" opacity="0.55"/>
<rect x="487.5" y="220.0" width="6" height="0.9" fill="#a8d8b4" opacity="0.55"/>
<rect x="488.2" y="224.2" width="6" height="0.9" fill="#a8d8b4" opacity="0.55"/>
<rect x="488.9" y="228.4" width="6" height="0.9" fill="#a8d8b4" opacity="0.55"/>
<rect x="490" y="211" width="6" height="3.4" fill="#202020"/><rect x="495" y="228" width="5" height="3" fill="#202020"/><rect x="486.5" y="193" width="3.6" height="3" fill="#1a1a1a"/><rect x="500" y="203" width="1.6" height="9" fill="#c9c9c9" opacity="0.8"/>
<ellipse cx="512.0" cy="244.4" rx="2.6" ry="2.3" fill="#8a8a8a" stroke="#2a2a2a" stroke-width="0.7"/>
<ellipse cx="521.0" cy="245.3" rx="2.6" ry="2.3" fill="#8a5a50" stroke="#2a2a2a" stroke-width="0.7"/>
<ellipse cx="530.0" cy="246.2" rx="2.6" ry="2.3" fill="#8a8a8a" stroke="#2a2a2a" stroke-width="0.7"/>
<ellipse cx="539.0" cy="247.1" rx="2.6" ry="2.3" fill="#9a9a9a" stroke="#2a2a2a" stroke-width="0.7"/>
<ellipse cx="548.0" cy="248.0" rx="2.6" ry="2.3" fill="#8a8a8a" stroke="#2a2a2a" stroke-width="0.7"/>
<ellipse cx="568.0" cy="250.0" rx="2.6" ry="2.3" fill="#8a8a8a" stroke="#2a2a2a" stroke-width="0.7"/>
<rect x="555" y="245.6" width="6.5" height="5.6" fill="#4fd23c"/>
<path d="M465.0 244.0 L465.0 257.0" fill="none" stroke="#c8c8c8" stroke-width="1.8" />
<ellipse cx="456.5" cy="247" rx="3.6" ry="5.6" fill="#3a3a3a"/>
<path d="M461.0 184.0 L503.0 175.5 L531.5 194.0 L520.0 228.0 L461.0 233.0 Z" fill="#9aa89c" opacity="0.38" />
<path d="M503.0 175.5 L531.5 194.0 L520.0 228.0 L505.0 215.0 Z" fill="#b4bab4" opacity="0.3" />
<path d="M461.0 184.0 L461.0 233.0" fill="none" stroke="#e0e0e0" stroke-width="1.1" opacity="0.8" />
<path d="M503.0 175.5 L531.5 194.0 L520.0 228.0" fill="none" stroke="#e4e4e4" stroke-width="1.0" opacity="0.75" />
<path d="M461.0 233.0 L520.0 228.0 L545.0 231.0" fill="none" stroke="#e4e4e4" stroke-width="1.4" opacity="0.8" />
<path d="M461.5 190.0 L466.0 189.6 L467.0 212.0 L462.0 212.4 Z" fill="#1d1d1d" />
<path d="M470.0 186.6 L497.7 176.4 L500.0 181.0 L489.5 190.8 L476.0 201.5 Z" fill="#dde1ec" opacity="0.95" />
<path d="M473.0 188.5 L497.0 179.0" fill="none" stroke="#9aa8d0" stroke-width="0.6" opacity="0.8" />
<path d="M475.0 192.0 L494.0 184.0" fill="none" stroke="#9aa8d0" stroke-width="0.6" opacity="0.8" />
<path d="M531.0 196.0 L614.6 198.0 L616.0 242.0 L560.0 238.0 L522.0 232.0 Z" fill="#2a2a30" opacity="0.55" />
<path d="M536.0 204.0 L606.0 207.0 L610.0 243.0 L528.0 234.0 Z" fill="#17171b" opacity="0.75" />
<path d="M531.0 196.0 L522.0 232.0" fill="none" stroke="#dcdcdc" stroke-width="1.0" opacity="0.7" />
<path d="M522.0 232.0 L560.0 238.0 L616.0 244.0" fill="none" stroke="#e8e8e8" stroke-width="1.5" opacity="0.85" />
<path d="M540.0 203.0 L612.0 206.0" fill="none" stroke="#c8c8c8" stroke-width="1.0" opacity="0.6" />
<path d="M552.0 206.0 L566.0 207.0 L566.0 211.0" fill="none" stroke="#d8d8d8" stroke-width="1.2" opacity="0.7" />
<path d="M575.0 217.0 L598.0 218.5 L599.0 233.0 L580.0 232.0" fill="none" stroke="#cfcfcf" stroke-width="0.9" opacity="0.6" />
<path d="M557.5 206.0 L561.5 233.0" fill="none" stroke="#d9487e" stroke-width="1.5" opacity="0.9" />
<rect x="560" y="226" width="2.6" height="6.5" fill="#f0d6e4"/>
<path d="M614.0 197.0 L643.0 200.0 L643.0 262.0 L616.0 244.0 Z" fill="#a9ada9" opacity="0.6" />
<path d="M600.0 200.0 L640.0 204.0 L641.0 238.0 L622.0 236.0 Z" fill="#b9bdb9" opacity="0.35" />
<path d="M600.0 199.0 L625.0 237.0 L643.0 239.0" fill="none" stroke="#dedede" stroke-width="1.0" opacity="0.7" />
<path d="M613.0 217.0 L617.0 217.0 L620.0 231.0 L616.0 231.0 Z" fill="#3a6ad8" opacity="0.75" />
<path d="M643.0 184.0 L652.5 186.0 L652.5 296.0 L643.0 293.0 Z" fill="#7a7a78" />
<path d="M645.0 200.0 L652.5 200.0 L652.5 250.0 L645.0 252.0 Z" fill="#8a8a8a" opacity="0.45" />
<path d="M643.3 184.0 L643.6 292.0" fill="none" stroke="#e2e2e2" stroke-width="1.3" opacity="0.85" />
<path d="M533.0 170.0 L652.5 172.0 L652.5 204.0 L640.0 204.0 L638.0 197.0 L625.0 196.0 L625.0 191.5 L560.0 189.0 L548.0 193.5 L536.0 193.0 L534.0 186.0 Z" fill="#efede6" />
<path d="M533.0 178.0 L652.5 183.0 L652.5 190.0 L560.0 186.5 L534.0 185.0 Z" fill="#dad7ce" opacity="0.8" />
<ellipse cx="584" cy="191.5" rx="22" ry="4.4" fill="#141414"/>
<path d="M537.0 186.0 L546.0 186.4 L546.0 195.0 L537.0 194.5 Z" fill="#f1eee7" />
<path d="M621.0 189.0 L652.5 190.5 L652.5 206.0 L640.0 206.0 L638.0 203.5 L622.0 202.5 Z" fill="#f3f1ea" />
<path d="M514.5 121.0 L522.0 111.6 L532.4 168.5 L534.0 186.0 L527.0 176.0 L519.0 152.0 Z" fill="#e6e3db" />
<path d="M517.0 136.0 L525.5 135.0 L530.0 162.0" fill="none" stroke="#b5b1a6" stroke-width="0.8" opacity="0.85" />
<path d="M520.0 150.0 L528.0 149.5" fill="none" stroke="#b5b1a6" stroke-width="0.8" opacity="0.85" />
<path d="M522.0 111.6 L622.8 118.5 L652.7 160.0 L652.7 168.5 L532.4 168.5 Z" fill="url(#holdG)" />
<path d="M522.0 111.6 L622.8 118.5 L652.5 159.5" fill="none" stroke="#fbfaf6" stroke-width="1.0" opacity="0.9" />
<path d="M532.4 168.5 L652.7 168.5 L652.7 173.0 L533.0 174.0 Z" fill="#e2dfd7" />
<path d="M548.7 138.0 L613.1 140.3 L632.4 158.0 L552.0 156.5 Z" fill="#efede6" />
<path d="M549.6 139.0 L606.5 141.0 L613.0 157.2 L552.6 155.8 Z" fill="#b9c2d6" />
<path d="M549.6 139.0 L606.5 141.0 L608.0 144.6 L550.2 142.8 Z" fill="#8f8848" />
<path d="M550.0 141.0 L607.4 142.9" fill="none" stroke="#2f2f2a" stroke-width="1.5" opacity="0.85" stroke-dasharray="1 0.9"/>
<path d="M551.0 146.0 L561.0 146.4 L564.0 155.8 L553.0 155.6 Z" fill="#4a4468" />
<path d="M563.5 144.8 L603.0 146.0 L608.5 156.6 L566.5 155.8 Z" fill="#c3cbe0" />
<path d="M566.0 145.6 L601.0 146.6 L603.5 150.8 L567.5 150.0 Z" fill="#d6dcec" opacity="0.85" />
<rect x="574.0" y="151.4" width="3.2" height="1.7" fill="#5a5f78" opacity="0.8"/>
<rect x="580.0" y="151.5" width="3.2" height="1.7" fill="#5a5f78" opacity="0.8"/>
<rect x="586.0" y="151.6" width="3.2" height="1.7" fill="#5a5f78" opacity="0.8"/>
<rect x="592.0" y="151.8" width="3.2" height="1.7" fill="#5a5f78" opacity="0.8"/>
<rect x="577.0" y="154.0" width="3.2" height="1.7" fill="#5a5f78" opacity="0.8"/>
<rect x="584.0" y="154.1" width="3.2" height="1.7" fill="#5a5f78" opacity="0.8"/>
<rect x="591.0" y="154.3" width="3.2" height="1.7" fill="#5a5f78" opacity="0.8"/>
<ellipse cx="556.4" cy="127.4" rx="2.4" ry="1.5" fill="#2a2a2a"/><ellipse cx="597.8" cy="130.3" rx="2.4" ry="1.5" fill="#2a2a2a"/>
<path d="M563.0 128.3 L591.0 130.0" fill="none" stroke="#8a867c" stroke-width="1.3" opacity="0.9" />
<g fill="#cbc7bb" opacity="0.85"><circle cx="531.0" cy="116.0" r="0.5"/><circle cx="542.0" cy="116.8" r="0.5"/><circle cx="553.0" cy="117.5" r="0.5"/><circle cx="564.0" cy="118.2" r="0.5"/><circle cx="575.0" cy="119.0" r="0.5"/><circle cx="586.0" cy="119.8" r="0.5"/><circle cx="597.0" cy="120.5" r="0.5"/><circle cx="608.0" cy="121.2" r="0.5"/><circle cx="619.0" cy="122.0" r="0.5"/><circle cx="533.5" cy="120.4" r="0.5"/><circle cx="544.5" cy="121.2" r="0.5"/><circle cx="555.5" cy="121.9" r="0.5"/><circle cx="566.5" cy="122.7" r="0.5"/><circle cx="577.5" cy="123.4" r="0.5"/><circle cx="588.5" cy="124.2" r="0.5"/><circle cx="599.5" cy="124.9" r="0.5"/><circle cx="610.5" cy="125.7" r="0.5"/><circle cx="621.5" cy="126.4" r="0.5"/><circle cx="536.0" cy="124.8" r="0.5"/><circle cx="547.0" cy="125.5" r="0.5"/><circle cx="558.0" cy="126.3" r="0.5"/><circle cx="569.0" cy="127.0" r="0.5"/><circle cx="580.0" cy="127.8" r="0.5"/><circle cx="591.0" cy="128.6" r="0.5"/><circle cx="602.0" cy="129.3" r="0.5"/><circle cx="613.0" cy="130.1" r="0.5"/><circle cx="624.0" cy="130.8" r="0.5"/><circle cx="538.5" cy="129.2" r="0.5"/><circle cx="549.5" cy="129.9" r="0.5"/><circle cx="560.5" cy="130.7" r="0.5"/><circle cx="571.5" cy="131.4" r="0.5"/><circle cx="582.5" cy="132.2" r="0.5"/><circle cx="593.5" cy="132.9" r="0.5"/><circle cx="604.5" cy="133.7" r="0.5"/><circle cx="615.5" cy="134.4" r="0.5"/><circle cx="626.5" cy="135.2" r="0.5"/><circle cx="540.0" cy="164.6" r="0.5"/><circle cx="551.5" cy="164.6" r="0.5"/><circle cx="563.0" cy="164.6" r="0.5"/><circle cx="574.5" cy="164.6" r="0.5"/><circle cx="586.0" cy="164.6" r="0.5"/><circle cx="597.5" cy="164.6" r="0.5"/><circle cx="609.0" cy="164.6" r="0.5"/><circle cx="620.5" cy="164.6" r="0.5"/><circle cx="632.0" cy="164.6" r="0.5"/><circle cx="643.5" cy="164.6" r="0.5"/></g>
<path d="M303.3 152.9 L480.0 165.4 L634.0 179.3 L652.5 181.5 L652.5 185.5 L634.0 183.5 L480.0 169.4 L303.5 156.8 Z" fill="#d2d2d0" opacity="0.93" />
<path d="M303.3 153.0 L480.0 165.5 L652.5 181.6" fill="none" stroke="#f2f2f0" stroke-width="0.9" opacity="0.9" />
<path d="M352.0 158.0 L428.0 163.5" fill="none" stroke="#8a8a88" stroke-width="1.3" opacity="0.8" />
<path d="M568.0 174.6 L634.0 180.4" fill="none" stroke="#8a8a90" stroke-width="1.3" opacity="0.8" />
<path d="M626.0 112.0 L640.0 108.5 L652.5 124.0 L652.5 160.0 Z" fill="#b9b8b2" opacity="0.6" />
<path d="M636.0 108.0 L652.5 128.0" fill="none" stroke="#e6e6e2" stroke-width="1.4" opacity="0.85" />
<path d="M420.0 259.0 L462.0 243.5 L560.0 257.0 L643.0 268.0 L643.0 289.0 L560.0 276.5 L500.0 267.0 L420.0 257.5 Z" fill="#131313" />
<path d="M536.0 256.0 L538.0 272.0" fill="none" stroke="#9a9a9a" stroke-width="1.2" />
<path d="M617.0 266.0 L619.0 284.0" fill="none" stroke="#9a9a9a" stroke-width="1.2" />
<path d="M307.5 252.5 L360.0 255.3 L420.0 259.5 L517.5 271.5 L610.0 284.0 L644.0 289.5 L651.0 287.0 L651.5 293.0 L645.0 296.5 L610.0 291.0 L517.5 277.5 L420.0 265.0 L360.0 260.8 L308.0 258.0 Z" fill="#c9c9c9" opacity="0.92" />
<path d="M307.5 252.8 L360.0 255.6 L420.0 259.8 L517.5 271.8 L610.0 284.3 L644.0 289.8" fill="none" stroke="#f2f2f2" stroke-width="1.0" opacity="0.9" />
<path d="M351.0 259.2 L419.0 263.6" fill="none" stroke="#6a6a6a" stroke-width="1.7" opacity="0.85" />
<path d="M432.0 266.5 L520.0 277.0" fill="none" stroke="#7a7a7a" stroke-width="1.3" opacity="0.7" />
<path d="M308.0 258.2 L420.0 265.2 L517.5 277.7 L610.0 291.2 L645.0 296.7" fill="none" stroke="#8a8a8a" stroke-width="0.8" opacity="0.8" />
</g></g>
<g id="panelB">
<defs>
<linearGradient id="batF" x1="0" y1="0" x2="1" y2="1"><stop offset="0" stop-color="#474747"/><stop offset="1" stop-color="#333333"/></linearGradient>
<linearGradient id="pcbG" x1="0" y1="0" x2="1" y2="0"><stop offset="0" stop-color="#153a1d"/><stop offset="0.6" stop-color="#1b4825"/><stop offset="1" stop-color="#27602f"/></linearGradient>
</defs>
<path d="M885.3 129.8 L1108.3 107.4 L1108.8 171.7 L1082.0 176.0 L1082.0 178.5 L1032.0 186.0 L1032.0 183.5 L888.5 198.6 Z" fill="#dcdcdc" stroke="#7a7a7a" stroke-width="0.8" stroke-linejoin="round" />
<path d="M1108.8 120.5 L1111.0 120.2 L1111.0 164.2 L1108.8 164.5 Z" fill="#e6e6e6" stroke="#7a7a7a" stroke-width="0.7" stroke-linejoin="round" />
<path d="M1015.6 167.0 L1041.9 163.6 L1042.4 172.4 L1016.0 176.8 Z" fill="#ffffff" stroke="#7a7a7a" stroke-width="0.7" stroke-linejoin="round" />
<path d="M831.2 157.5 L834.5 159.0 L847.5 208.0 L852.8 284.0 L849.8 286.2 L845.0 270.0 L838.5 262.0 L833.2 200.0 Z" fill="#d9d9d9" stroke="#707070" stroke-width="0.8" stroke-linejoin="round" />
<path d="M834.2 164.0 L839.5 255.0 L848.5 276.0" fill="none" stroke="#8a8a8a" stroke-width="0.7" />
<path d="M836.5 168.0 L846.0 215.0 L850.0 280.0" fill="none" stroke="#9a9a9a" stroke-width="0.6" />
<path d="M1158.5 124.9 L1161.5 123.5 L1198.8 166.5 L1195.5 243.8 L1192.5 245.0 L1155.6 188.5 Z" fill="#dcdcdc" stroke="#707070" stroke-width="0.8" stroke-linejoin="round" />
<path d="M1165.8 144.5 L1192.0 175.0 L1189.8 228.5 L1164.3 193.5 Z" fill="#ffffff" stroke="#707070" stroke-width="0.8" stroke-linejoin="round" />
<path d="M1161.0 128.5 L1196.0 169.0 L1193.0 241.0" fill="none" stroke="#8a8a8a" stroke-width="0.6" />
<path d="M923.8 227.4 L1180.3 198.9 L1175.5 275.5 L1122.0 282.5 L1122.0 285.0 L1091.0 289.0 L1091.0 286.5 L959.0 303.5 L959.0 306.0 L926.8 309.5 Z" fill="#dedede" stroke="none" stroke-width="0" stroke-linejoin="round" opacity="0.92" />
<path d="M891.0 223.5 L1135.0 200.5 L1163.0 247.0 L909.7 280.8 Z" fill="#bdbdbd" stroke="#7a7a7a" stroke-width="0.8" stroke-linejoin="round" opacity="0.95" />
<path d="M895.0 232.0 L905.0 229.0 L921.0 283.0 L1160.0 251.5 L1163.0 247.0 L909.7 280.8 Z" fill="#dedede" stroke="#7a7a7a" stroke-width="0.7" stroke-linejoin="round" />
<path d="M899.0 226.5 L1131.0 204.5 L1156.5 246.0 L914.0 276.5 L899.0 226.5" fill="none" stroke="#8a8a8a" stroke-width="0.7" />
<path d="M1119.9 163.9 L1122.0 167.5 L1125.0 172.4 L1131.0 170.0 L1132.6 162.5 L1147.9 181.1 L1147.1 217.9 L1143.6 219.8 L1137.4 214.8 L1133.0 222.2 L1120.0 199.8 L1118.7 191.1 Z" fill="#3d3b3a" stroke="#1c1c1c" stroke-width="0.8" stroke-linejoin="round" />
<ellipse cx="1124.6" cy="195" rx="4.8" ry="21" transform="rotate(-10 1124.6 195)" fill="#8c837a"/>
<ellipse cx="1127.6" cy="196" rx="3.6" ry="19" transform="rotate(-10 1127.6 196)" fill="#2e2d2c"/>
<ellipse cx="1138.2" cy="194" rx="6" ry="22" transform="rotate(-8 1138.2 194)" fill="#a0968b" stroke="#2b2b2b" stroke-width="0.6"/>
<ellipse cx="1135.4" cy="195.5" rx="4.4" ry="20" transform="rotate(-8 1135.4 195.5)" fill="#7e756c"/>
<ellipse cx="1133" cy="196.5" rx="2.6" ry="18" transform="rotate(-8 1133 196.5)" fill="#2b2a29"/>
<rect x="1127.4" y="173" width="2.6" height="9" transform="rotate(-8 1128 177)" fill="#9aa6dc"/>
<path d="M1119.5 203.5 L1147.0 199.5" fill="none" stroke="#3a3a3a" stroke-width="0.9" />
<path d="M908.5 223.6 L1017.2 211.3 L1038.5 245.4 L922.8 259.6 Z" fill="url(#pcbG)" stroke="#17351f" stroke-width="0.8" stroke-linejoin="round" />
<g fill="#c6a64a"><circle cx="911.8" cy="228.5" r="0.75"/><circle cx="913.3" cy="232.1" r="0.75"/><circle cx="914.9" cy="235.6" r="0.75"/><circle cx="916.4" cy="239.2" r="0.75"/><circle cx="918.0" cy="242.7" r="0.75"/><circle cx="919.5" cy="246.2" r="0.75"/><circle cx="921.1" cy="249.8" r="0.75"/><circle cx="922.6" cy="253.3" r="0.75"/><circle cx="924.2" cy="256.9" r="0.75"/><circle cx="1017.5" cy="215.0" r="0.75"/><circle cx="1019.0" cy="217.6" r="0.75"/><circle cx="1020.6" cy="220.1" r="0.75"/><circle cx="1022.1" cy="222.7" r="0.75"/><circle cx="1023.7" cy="225.2" r="0.75"/><circle cx="1025.2" cy="227.8" r="0.75"/><circle cx="1026.8" cy="230.3" r="0.75"/><circle cx="1028.3" cy="232.8" r="0.75"/><circle cx="1029.9" cy="235.4" r="0.75"/><circle cx="1031.5" cy="237.9" r="0.75"/><circle cx="1033.0" cy="240.5" r="0.75"/><circle cx="1034.5" cy="243.1" r="0.75"/></g>
<path d="M944.0 236.5 L955.0 235.0 L957.5 248.0 L946.5 249.8 Z" fill="#1c2620" stroke="#0f1511" stroke-width="0.5" stroke-linejoin="round" />
<path d="M957.0 234.8 L967.0 233.6 L969.5 246.2 L959.5 247.6 Z" fill="#1c2620" stroke="#0f1511" stroke-width="0.5" stroke-linejoin="round" />
<rect x="984.0" y="234.0" width="3.6" height="4.4" rx="1" fill="#17201b"/>
<rect x="989.5" y="233.2" width="3.6" height="4.4" rx="1" fill="#17201b"/>
<rect x="995.0" y="232.5" width="3.6" height="4.4" rx="1" fill="#17201b"/>
<rect x="985.5" y="240.0" width="3.6" height="4.4" rx="1" fill="#17201b"/>
<rect x="991.0" y="239.3" width="3.6" height="4.4" rx="1" fill="#17201b"/>
<rect x="996.5" y="238.6" width="3.6" height="4.4" rx="1" fill="#17201b"/>
<circle cx="986.0" cy="246.0" r="1.5" fill="#7d8a80"/>
<circle cx="991.5" cy="245.3" r="1.5" fill="#7d8a80"/>
<circle cx="997.0" cy="244.6" r="1.5" fill="#7d8a80"/>
<rect x="930.0" y="240.0" width="3" height="2" fill="#1d3d27"/>
<rect x="933.0" y="247.0" width="3" height="2" fill="#1d3d27"/>
<rect x="1004.0" y="226.0" width="3" height="2" fill="#1d3d27"/>
<rect x="1012.0" y="238.0" width="3" height="2" fill="#1d3d27"/>
<rect x="975.0" y="226.5" width="3" height="2" fill="#1d3d27"/>
<rect x="960.0" y="228.0" width="3" height="2" fill="#1d3d27"/>
<ellipse cx="1033.7" cy="251.8" rx="1.3" ry="1.8" fill="#b5b5b5" stroke="#666" stroke-width="0.5"/>
<path d="M919.5 176.0 L1000.0 166.5 L1013.8 188.0 L1014.2 228.0 L934.5 237.5 L932.8 196.0 Z" fill="#585858" stroke="#3a3a3a" stroke-width="0.7" stroke-linejoin="round" opacity="0.55" />
<path d="M933.0 205.0 L1013.0 195.5 L1014.2 228.0 L934.5 237.5 Z" fill="#5a5a5a" stroke="#3a3a3a" stroke-width="0.6" stroke-linejoin="round" opacity="0.15" />
<path d="M936.0 226.0 L1011.0 217.0" fill="none" stroke="#5a5a5a" stroke-width="0.6" />
<path d="M938.0 232.0 L938.0 240.0 L1009.0 231.0 L1009.0 224.0" fill="none" stroke="#4a4a4a" stroke-width="0.6" />
<path d="M920.5 178.0 L933.5 197.5 L1013.0 188.5" fill="none" stroke="#555" stroke-width="0.6" />
<ellipse cx="969" cy="198" rx="27.5" ry="9.5" fill="#c2c2c2" stroke="#6a6a6a" stroke-width="0.7" opacity="0.85"/>
<ellipse cx="969" cy="197" rx="22" ry="7.4" fill="#a9a9a9" stroke="#6a6a6a" stroke-width="0.5" opacity="0.85"/>
<path d="M1012.0 186.0 L1032.0 184.0 L1043.0 216.0 L1040.0 224.0 L1016.0 226.5 Z" fill="#d4d4d4" stroke="#777" stroke-width="0.7" stroke-linejoin="round" opacity="0.7" />
<path d="M1026.0 192.0 L1036.0 216.0" fill="none" stroke="#888" stroke-width="0.6" />
<ellipse cx="970" cy="197.6" rx="33" ry="10.5" fill="#c4c4c4" stroke="#6a6a6a" stroke-width="0.7" opacity="0.9"/>
<ellipse cx="970" cy="190.6" rx="24" ry="9" fill="#272727"/>
<rect x="946" y="184" width="48" height="6.6" fill="#272727"/>
<ellipse cx="970" cy="186" rx="24" ry="9" fill="#3c3c3c"/>
<path d="M938.0 190.0 L943.6 189.4 L943.6 195.6 L938.0 196.2 Z" fill="#7a7a7a" stroke="#4e4e4e" stroke-width="0.6" stroke-linejoin="round" />
<path d="M1004.5 184.4 L1010.1 183.6 L1010.1 188.8 L1004.5 189.6 Z" fill="#7a7a7a" stroke="#4e4e4e" stroke-width="0.6" stroke-linejoin="round" />
<path d="M934.2 182.3 L953.5 179.8 L954.1 188.5 L934.9 191.0 Z" fill="#8a8a8a" stroke="#4e4e4e" stroke-width="0.7" stroke-linejoin="round" />
<path d="M995.8 174.8 L1015.1 171.7 L1015.1 182.9 L996.4 185.4 Z" fill="#8a8a8a" stroke="#4e4e4e" stroke-width="0.7" stroke-linejoin="round" />
<path d="M953.5 179.8 L995.8 174.8 L995.8 178.2 L953.5 183.2 Z" fill="#848484" stroke="#4e4e4e" stroke-width="0.7" stroke-linejoin="round" />
<path d="M927.4 167.3 L934.2 182.3 L934.9 191.0 L928.5 177.5 Z" fill="#6f6f6f" stroke="#4e4e4e" stroke-width="0.6" stroke-linejoin="round" />
<path d="M927.4 167.3 L947.9 167.3 L990.8 162.6 L1008.9 160.5 L1015.1 171.7 L995.8 174.8 L953.5 179.8 L934.2 182.3 Z" fill="#b3b3b3" stroke="#4e4e4e" stroke-width="0.7" stroke-linejoin="round" />
<path d="M947.9 167.3 L953.5 179.8" fill="none" stroke="#4e4e4e" stroke-width="0.6" />
<path d="M990.8 162.6 L995.8 174.8" fill="none" stroke="#4e4e4e" stroke-width="0.6" />
<path d="M1003.8 166.2 L1010.6 165.3 L1011.4 167.3 L1004.6 168.2 Z" fill="#d4d4d4" stroke="#4e4e4e" stroke-width="0.5" stroke-linejoin="round" />
<path d="M931.0 173.6 L939.5 172.6 L940.3 174.6 L931.8 175.6 Z" fill="#d4d4d4" stroke="#4e4e4e" stroke-width="0.5" stroke-linejoin="round" />
<path d="M925.5 163.6 L947.9 160.5 L947.9 167.3 L927.4 168.6 Z" fill="#868686" stroke="#4e4e4e" stroke-width="0.6" stroke-linejoin="round" />
<path d="M985.9 154.3 L1004.5 151.1 L1004.5 159.2 L1008.9 160.5 L990.8 162.6 L985.9 160.5 Z" fill="#868686" stroke="#4e4e4e" stroke-width="0.6" stroke-linejoin="round" />
<path d="M919.3 148.7 L925.5 163.6 L927.4 168.6 L921.2 154.0 Z" fill="#6f6f6f" stroke="#4e4e4e" stroke-width="0.6" stroke-linejoin="round" />
<path d="M946.1 162.2 L984.6 157.4 L987.4 162.4 L947.9 167.3 Z" fill="#f4f4f4" stroke="#888" stroke-width="0.5" stroke-linejoin="round" />
<path d="M919.3 148.7 L925.6 148.0 L925.9 146.2 L933.6 145.4 L934.2 147.0 L942.3 146.2 L947.9 160.5 L925.5 163.6 Z" fill="#a8a8a8" stroke="#4e4e4e" stroke-width="0.7" stroke-linejoin="round" />
<path d="M977.5 142.4 L989.6 141.2 L989.8 139.4 L997.5 138.6 L1004.5 151.1 L985.9 154.3 Z" fill="#a8a8a8" stroke="#4e4e4e" stroke-width="0.7" stroke-linejoin="round" />
<path d="M942.3 146.0 L977.6 141.9 L985.0 155.9 L949.0 160.9 Z" fill="#5250b0" stroke="#2f2d70" stroke-width="0.7" stroke-linejoin="round" />
<path d="M945.5 147.4 L974 144.2" stroke="#26255e" stroke-width="1.3" stroke-dasharray="0.8 0.5"/>
<g fill="#1a1a48"><rect x="955.5" y="150.2" width="2" height="1.4"/><rect x="958.6" y="149.6" width="2.4" height="1.6"/><rect x="962" y="150.6" width="2" height="1.4"/><rect x="965.2" y="149.8" width="2.6" height="1.8"/><rect x="956.8" y="152.8" width="3" height="1.6"/><rect x="961.2" y="152.6" width="2.4" height="1.6"/><rect x="965.6" y="152.6" width="2" height="1.8"/></g>
<path d="M940.9 129.4 L985.7 125.0 L989.8 132.4 L944.4 136.9 Z" fill="#3f6eb8" stroke="#274a86" stroke-width="0.7" stroke-linejoin="round" />
<g fill="#1f3b70"><circle cx="958" cy="130.2" r="0.6"/><circle cx="962" cy="129.4" r="0.6"/><circle cx="966" cy="129.6" r="0.6"/><circle cx="972" cy="128.6" r="0.6"/><circle cx="960" cy="132.6" r="0.6"/><circle cx="970" cy="131.4" r="0.6"/></g>
<path d="M930.8 104.0 L1015.2 98.6 L1015.4 116.0 L1012.0 117.3 L1008.2 116.2 L1008.2 109.6 L990.0 109.9 L989.3 111.2 L936.1 111.8 L936.1 123.0 L933.6 124.6 L930.8 122.5 Z" fill="#6e6e6e" stroke="#3f3f3f" stroke-width="0.8" stroke-linejoin="round" />
<path d="M1015.6 99.5 L1018.6 97.8 L1018.6 113.2 L1015.6 116.0 Z" fill="#5c5c5c" stroke="#3f3f3f" stroke-width="0.6" stroke-linejoin="round" />
<path d="M1014.0 96.2 L1017.6 95.6 L1018.6 97.8 L1015.6 99.5 Z" fill="#8a8a8a" stroke="#3f3f3f" stroke-width="0.5" stroke-linejoin="round" />
<path d="M921.1 79.0 L995.6 71.8 L1014.9 98.4 L930.8 104.0 Z" fill="#848484" stroke="#3f3f3f" stroke-width="0.8" stroke-linejoin="round" />
<path d="M938.5 90.9 L992.2 86.1 L999.0 98.4 L944.3 104.2 Z" fill="#6a6a6a" stroke="#3f3f3f" stroke-width="0.6" stroke-linejoin="round" />
<path d="M941.0 94.0 L992.2 90.3 L996.1 98.2 L944.8 103.2 Z" fill="#ffffff" stroke="#555" stroke-width="0.5" stroke-linejoin="round" />
<path d="M884.7 46.7 L1135.6 24.4 L1173.9 63.5 L906.4 89.6 Z" fill="#c3cfce" stroke="#6d7575" stroke-width="0.8" stroke-linejoin="round" opacity="0.95" />
<path d="M906.4 89.6 L907.0 91.6 L1174.4 65.4 L1173.9 63.5" fill="none" stroke="#6d7575" stroke-width="0.7" />
<path d="M889.2 48.4 L1134.0 26.6 L1169.6 62.2 L908.8 87.4 L889.2 48.4" fill="none" stroke="#7b8484" stroke-width="0.7" />
<path d="M888.0 52.0 L892.0 51.6 L903.0 74.0 L899.5 75.0" fill="none" stroke="#7b8484" stroke-width="0.6" />
<path d="M1141.0 34.0 L1144.0 33.4 L1160.0 50.0 L1157.5 51.0" fill="none" stroke="#7b8484" stroke-width="0.6" />
<path d="M1076.0 72.2 L1136.0 66.2" fill="none" stroke="#59605f" stroke-width="1.2" />
<path d="M938.0 84.8 L988.0 80.0" fill="none" stroke="#59605f" stroke-width="1.2" />
<path d="M921.6 78.6 L996.3 71.9 L1000.5 78.0 L925.0 87.2 Z" fill="#9aa5a4" stroke="#6d7575" stroke-width="0.5" stroke-linejoin="round" opacity="0.75" />
<path d="M940.0 82.6 L983.0 78.4" fill="none" stroke="#555" stroke-width="0.9" stroke-dasharray="3 2"/>
<path d="M1067 213.5 L1078 206.6 L1117.6 201 Q1122.5 200.6 1124.6 204 L1126.6 209.5 L1126.6 241 Q1126.6 245.8 1121.8 246.5 L1072.5 252.2 Q1065.4 252.8 1064.8 246 L1064.8 219 Q1064.8 215 1067 213.5 Z" fill="url(#batF)" stroke="#161616" stroke-width="0.9"/>
<path d="M1067 213.5 L1078 206.6 L1117.6 201 Q1122.5 200.6 1124.6 204 L1126.6 209.5 Q1124 207.6 1119.5 208.2 L1072 214.4 Q1068.4 214.8 1066 217.6 Q1065.6 215 1067 213.5Z" fill="#525252" stroke="#1d1d1d" stroke-width="0.6"/>
<path d="M1078.5 207.5 L1081.0 212.6" fill="none" stroke="#222" stroke-width="0.6" />
<path d="M1092.0 205.0 L1092.6 207.4 L1104.0 205.8 L1103.6 203.4" fill="none" stroke="#222" stroke-width="0.6" />
<path d="M923.8 227.4 L1180.3 198.9 L1175.5 275.5 L1122.0 282.5 L1122.0 285.0 L1091.0 289.0 L1091.0 286.5 L959.0 303.5 L959.0 306.0 L926.8 309.5 Z" fill="none" stroke="#7a7a7a" stroke-width="0.8" stroke-linejoin="round" />
<path d="M1176.0 213.0 L1178.5 213.0 L1178.5 262.0 L1175.8 262.0" fill="none" stroke="#7a7a7a" stroke-width="0.7" />
<path d="M913.0 279.5 L916.0 288.0 L940.0 286.0 L940.0 283.0" fill="none" stroke="#7a7a7a" stroke-width="0.7" />
<path d="M962.0 281.0 L962.0 283.5 L1000.0 278.5 L1000.0 276.0" fill="none" stroke="#7a7a7a" stroke-width="0.7" />
<path d="M1070.0 266.0 L1070.0 268.5 L1112.0 262.5 L1112.0 260.0" fill="none" stroke="#7a7a7a" stroke-width="0.7" />
<path d="M923.4 228.0 L923.6 292.0" fill="none" stroke="#333" stroke-width="1.1" />
<line x1="831.0" y1="79.5" x2="936.5" y2="102.7" stroke="#0a0a0a" stroke-width="1.5"/><circle cx="936.5" cy="102.7" r="3.4" fill="#0a0a0a"/>
<line x1="831.5" y1="108.5" x2="942.0" y2="132.7" stroke="#0a0a0a" stroke-width="1.5"/><circle cx="942.0" cy="132.7" r="3.4" fill="#0a0a0a"/>
<line x1="831.0" y1="148.5" x2="946.7" y2="151.4" stroke="#0a0a0a" stroke-width="1.5"/><circle cx="946.7" cy="151.4" r="3.4" fill="#0a0a0a"/>
<line x1="840.5" y1="195.0" x2="931.5" y2="177.9" stroke="#0a0a0a" stroke-width="1.5"/><circle cx="931.5" cy="177.9" r="3.4" fill="#0a0a0a"/>
<line x1="855.0" y1="243.3" x2="951.7" y2="194.7" stroke="#0a0a0a" stroke-width="1.5"/><circle cx="951.7" cy="194.7" r="3.4" fill="#0a0a0a"/>
<line x1="855.0" y1="301.5" x2="921.7" y2="243.2" stroke="#0a0a0a" stroke-width="1.5"/><circle cx="921.7" cy="243.2" r="3.4" fill="#0a0a0a"/>
<line x1="1121.0" y1="292.0" x2="1095.6" y2="233.5" stroke="#0a0a0a" stroke-width="1.5"/><circle cx="1095.6" cy="233.5" r="3.4" fill="#0a0a0a"/>
</g>
<g id="panelC">
<defs>
<radialGradient id="dRed" cx="0.45" cy="0.3" r="0.75"><stop offset="0" stop-color="#c4514a"/><stop offset="0.6" stop-color="#ad3f3a"/><stop offset="1" stop-color="#7c2a27"/></radialGradient>
<radialGradient id="dTan" cx="0.45" cy="0.3" r="0.75"><stop offset="0" stop-color="#ad9785"/><stop offset="0.6" stop-color="#96806f"/><stop offset="1" stop-color="#66574b"/></radialGradient>
<radialGradient id="dPur" cx="0.45" cy="0.3" r="0.75"><stop offset="0" stop-color="#a04d87"/><stop offset="0.6" stop-color="#873a72"/><stop offset="1" stop-color="#5a2650"/></radialGradient>
<linearGradient id="cyG" x1="0" y1="0" x2="0" y2="1"><stop offset="0" stop-color="#bbfcfb"/><stop offset="1" stop-color="#bffcfb"/></linearGradient>
</defs>
<path d="M782.5 449.5 L1204 447.5 L1165 564.3 L744.5 566.3 Z" fill="#fdebd7"/>
<path d="M744.5 566.6 L1165 564.6" stroke="#111" stroke-width="2.6" fill="none"/>
<path d="M1204.6 447.5 L1165.6 565" stroke="#1a1a1a" stroke-width="2" fill="none"/>
<path d="M860 381 L1184 379.6 L1108.8 611 L783 612.6 Z" fill="url(#cyG)"/>
<path d="M835 449.6 L1161.5 447.8 L1123.6 564.5 L798.4 566 Z" fill="#c1fbf8"/>
<path d="M835 449.8 L1161.5 448" stroke="#7d837d" stroke-width="1.3" fill="none"/>
<path d="M798.4 566.4 L1123.6 564.8" stroke="#141a1a" stroke-width="2.6" fill="none"/>
<path d="M783 612.6 L1108.8 611" stroke="#9de3ee" stroke-width="2.2" fill="none"/>
<path d="M889.4 414.7 L897.2 414.7 L894.9 420.9 L887.1 420.9 Z M905.0 414.7 L912.8 414.7 L910.5 420.9 L902.7 420.9 Z M920.6 414.7 L928.4 414.7 L926.1 420.9 L918.3 420.9 Z M936.3 414.7 L944.1 414.7 L941.8 420.9 L934.0 420.9 Z M951.9 414.7 L959.7 414.7 L957.4 420.9 L949.6 420.9 Z M967.5 414.7 L975.3 414.7 L973.0 420.9 L965.2 420.9 Z M983.1 414.7 L990.9 414.7 L988.6 420.9 L980.8 420.9 Z M998.7 414.7 L1006.5 414.7 L1004.2 420.9 L996.4 420.9 Z M1014.4 414.7 L1022.2 414.7 L1019.9 420.9 L1012.1 420.9 Z M1030.0 414.7 L1037.8 414.7 L1035.5 420.9 L1027.7 420.9 Z M1045.6 414.7 L1053.4 414.7 L1051.1 420.9 L1043.3 420.9 Z M1061.2 414.7 L1069.0 414.7 L1066.7 420.9 L1058.9 420.9 Z M1076.8 414.7 L1084.6 414.7 L1082.3 420.9 L1074.5 420.9 Z M1092.5 414.7 L1100.3 414.7 L1098.0 420.9 L1090.2 420.9 Z M1108.1 414.7 L1115.9 414.7 L1113.6 420.9 L1105.8 420.9 Z M1123.7 414.7 L1131.5 414.7 L1129.2 420.9 L1121.4 420.9 Z M886.5 423.9 L894.3 423.9 L892.0 430.1 L884.2 430.1 Z M902.1 423.9 L909.9 423.9 L907.6 430.1 L899.8 430.1 Z M917.7 423.9 L925.5 423.9 L923.2 430.1 L915.4 430.1 Z M933.4 423.9 L941.2 423.9 L938.9 430.1 L931.1 430.1 Z M949.0 423.9 L956.8 423.9 L954.5 430.1 L946.7 430.1 Z M964.6 423.9 L972.4 423.9 L970.1 430.1 L962.3 430.1 Z M980.2 423.9 L988.0 423.9 L985.7 430.1 L977.9 430.1 Z M995.8 423.9 L1003.6 423.9 L1001.3 430.1 L993.5 430.1 Z M1011.5 423.9 L1019.3 423.9 L1017.0 430.1 L1009.2 430.1 Z M1027.1 423.9 L1034.9 423.9 L1032.6 430.1 L1024.8 430.1 Z M1042.7 423.9 L1050.5 423.9 L1048.2 430.1 L1040.4 430.1 Z M1058.3 423.9 L1066.1 423.9 L1063.8 430.1 L1056.0 430.1 Z M1073.9 423.9 L1081.7 423.9 L1079.4 430.1 L1071.6 430.1 Z M1089.6 423.9 L1097.4 423.9 L1095.1 430.1 L1087.3 430.1 Z M1105.2 423.9 L1113.0 423.9 L1110.7 430.1 L1102.9 430.1 Z M1120.8 423.9 L1128.6 423.9 L1126.3 430.1 L1118.5 430.1 Z M883.6 433.4 L891.4 433.4 L889.1 439.6 L881.3 439.6 Z M899.2 433.4 L907.0 433.4 L904.7 439.6 L896.9 439.6 Z M914.8 433.4 L922.6 433.4 L920.3 439.6 L912.5 439.6 Z M930.5 433.4 L938.3 433.4 L936.0 439.6 L928.2 439.6 Z M946.1 433.4 L953.9 433.4 L951.6 439.6 L943.8 439.6 Z M961.7 433.4 L969.5 433.4 L967.2 439.6 L959.4 439.6 Z M977.3 433.4 L985.1 433.4 L982.8 439.6 L975.0 439.6 Z M992.9 433.4 L1000.7 433.4 L998.4 439.6 L990.6 439.6 Z M1008.6 433.4 L1016.4 433.4 L1014.1 439.6 L1006.3 439.6 Z M1024.2 433.4 L1032.0 433.4 L1029.7 439.6 L1021.9 439.6 Z M1039.8 433.4 L1047.6 433.4 L1045.3 439.6 L1037.5 439.6 Z M1055.4 433.4 L1063.2 433.4 L1060.9 439.6 L1053.1 439.6 Z M1071.0 433.4 L1078.8 433.4 L1076.5 439.6 L1068.7 439.6 Z M1086.7 433.4 L1094.5 433.4 L1092.2 439.6 L1084.4 439.6 Z M1102.3 433.4 L1110.1 433.4 L1107.8 439.6 L1100.0 439.6 Z M1117.9 433.4 L1125.7 433.4 L1123.4 439.6 L1115.6 439.6 Z" fill="#115f59"/>
<path d="M909.5 470.8 L938.5 470.8 L931.3 489.2 L902.3 489.2 Z M950.6 470.8 L979.6 470.8 L972.4 489.2 L943.4 489.2 Z M996.5 470.3 L1025.2 470.3 L1018.0 488.8 L989.3 488.8 Z M911.5 489.0 L920.5 489.0 L913.9 506.0 L904.9 506.0 Z M952.6 489.0 L961.6 489.0 L956.1 503.0 L947.1 503.0 Z M998.4 488.6 L1007.4 488.6 L1003.0 500.0 L994.0 500.0 Z M901.0 505.8 L927.5 505.8 L922.8 517.9 L896.3 517.9 Z M927.0 502.5 L1012.0 502.5 L1005.4 519.5 L920.4 519.5 Z M1008.0 499.3 L1053.4 499.3 L1044.6 521.9 L999.2 521.9 Z M909.5 517.5 L917.0 517.5 L910.6 534.0 L903.1 534.0 Z M948.5 519.0 L956.0 519.0 L950.1 534.0 L942.6 534.0 Z M1016.0 521.5 L1029.0 521.5 L1025.3 531.0 L1012.3 531.0 Z M888.0 533.5 L917.6 533.5 L910.6 551.7 L881.0 551.7 Z M928.6 533.5 L958.8 533.5 L951.8 551.7 L921.6 551.7 Z M1004.0 530.7 L1033.8 530.7 L1026.0 551.7 L996.2 551.7 Z" fill="#1f8578"/>
<path d="M924.6 501 L916.8 521 M935.2 501 L927.4 521 M945.8 501 L938.0 521 M956.4 501 L948.6 521 M967.0 501 L959.2 521 M977.6 501 L969.8 521 M988.2 501 L980.4 521 M998.8 501 L991.0 521 M1009.4 501 L1001.6 521 M1020.0 501 L1012.2 521 M1030.6 501 L1022.8 521 M1041.2 501 L1033.4 521" stroke="#2f9486" stroke-width="0.7" fill="none" opacity="0.7"/>
<path d="M900 511.8 L1050 511" stroke="#2f9486" stroke-width="0.7" fill="none" opacity="0.6"/>
<ellipse cx="1012.6" cy="533.4" rx="5" ry="4" fill="#0d2b28"/><path d="M1009 534.5 C1011 532.5 1015 532.5 1017 534.5 C1015 537.5 1011 537.5 1009 534.5Z" fill="#6fd6d8"/><path d="M1010.5 536 L1013 537.8 L1015.5 536Z" fill="#e8fbfb"/>
<ellipse cx="1017.2" cy="548.3" rx="4.6" ry="3.6" fill="#1c5a50"/><ellipse cx="1017.2" cy="549.2" rx="3.6" ry="2.5" fill="#2d7467"/>
<defs>
<linearGradient id="pRedS" x1="0" y1="0" x2="0" y2="1"><stop offset="0" stop-color="#a83a36"/><stop offset="1" stop-color="#7e2b29"/></linearGradient>
<linearGradient id="pTanS" x1="0" y1="0" x2="0" y2="1"><stop offset="0" stop-color="#8f7b6e"/><stop offset="1" stop-color="#65564c"/></linearGradient>
<linearGradient id="pPurS" x1="0" y1="0" x2="0" y2="1"><stop offset="0" stop-color="#84406f"/><stop offset="1" stop-color="#5a2a4e"/></linearGradient>
<radialGradient id="pRedT" cx="0.5" cy="0.4" r="0.7"><stop offset="0" stop-color="#bf4a43"/><stop offset="1" stop-color="#a93a36"/></radialGradient>
<radialGradient id="pTanT" cx="0.5" cy="0.4" r="0.7"><stop offset="0" stop-color="#a18d80"/><stop offset="1" stop-color="#8e7a6d"/></radialGradient>
<radialGradient id="pPurT" cx="0.5" cy="0.4" r="0.7"><stop offset="0" stop-color="#964c80"/><stop offset="1" stop-color="#833e6e"/></radialGradient>
</defs>
<ellipse cx="922.3" cy="483.2" rx="13.0" ry="6.5" fill="#14443d" opacity="0.55" filter="url(#b1)"/><path d="M906.3 472.8 C906.3 478.2 906.9 481.8 908.7 483.8 C911.3 487.1 915.3 487.8 919.3 487.8 C923.3 487.8 927.3 487.1 929.9 483.8 C931.7 481.8 932.3 478.2 932.3 472.8 Z" fill="url(#pRedS)"/><ellipse cx="919.3" cy="472.8" rx="13.0" ry="6.6" fill="url(#pRedT)"/><path d="M915.3 469.4 L921.7 468.4 L922.9 471.0 L918.3 472.2 Z" fill="#ececec"/><path d="M918.3 472.2 L922.9 471.0 L921.9 472.6 Z" fill="#9a9a9a"/><ellipse cx="913.9" cy="471.0" rx="2.2" ry="1.9" fill="#150c0c" opacity="0.85"/><path d="M925.3 481.0 C929.3 479.0 931.3 476.0 931.7 474.0" stroke="#ffffff" stroke-width="0.8" fill="none" opacity="0.35"/>
<ellipse cx="962.9" cy="483.2" rx="13.0" ry="6.5" fill="#14443d" opacity="0.55" filter="url(#b1)"/><path d="M946.9 472.8 C946.9 478.2 947.5 481.8 949.3 483.8 C951.9 487.1 955.9 487.8 959.9 487.8 C963.9 487.8 967.9 487.1 970.5 483.8 C972.3 481.8 972.9 478.2 972.9 472.8 Z" fill="url(#pTanS)"/><ellipse cx="959.9" cy="472.8" rx="13.0" ry="6.6" fill="url(#pTanT)"/><path d="M955.9 469.4 L962.3 468.4 L963.5 471.0 L958.9 472.2 Z" fill="#ececec"/><path d="M958.9 472.2 L963.5 471.0 L962.5 472.6 Z" fill="#9a9a9a"/><ellipse cx="954.5" cy="471.0" rx="2.2" ry="1.9" fill="#150c0c" opacity="0.85"/><path d="M965.9 481.0 C969.9 479.0 971.9 476.0 972.3 474.0" stroke="#ffffff" stroke-width="0.8" fill="none" opacity="0.35"/>
<ellipse cx="1009.1" cy="483.1" rx="13.0" ry="6.5" fill="#14443d" opacity="0.55" filter="url(#b1)"/><path d="M993.1 472.6 C993.1 478.1 993.7 481.6 995.5 483.6 C998.1 486.9 1002.1 487.6 1006.1 487.6 C1010.1 487.6 1014.1 486.9 1016.7 483.6 C1018.5 481.6 1019.1 478.1 1019.1 472.6 Z" fill="url(#pPurS)"/><ellipse cx="1006.1" cy="472.6" rx="13.0" ry="6.6" fill="url(#pPurT)"/><path d="M1002.1 469.2 L1008.5 468.2 L1009.7 470.8 L1005.1 472.0 Z" fill="#ececec"/><path d="M1005.1 472.0 L1009.7 470.8 L1008.7 472.4 Z" fill="#9a9a9a"/><ellipse cx="1000.7" cy="470.8" rx="2.2" ry="1.9" fill="#150c0c" opacity="0.85"/><path d="M1012.1 480.8 C1016.1 478.8 1018.1 475.8 1018.5 473.8" stroke="#ffffff" stroke-width="0.8" fill="none" opacity="0.35"/>
<ellipse cx="900.4" cy="544.4" rx="13.0" ry="6.5" fill="#14443d" opacity="0.55" filter="url(#b1)"/><path d="M884.4 534.9 C884.4 540.4 885.0 542.9 886.8 544.9 C889.4 548.2 893.4 548.9 897.4 548.9 C901.4 548.9 905.4 548.2 908.0 544.9 C909.8 542.9 910.4 540.4 910.4 534.9 Z" fill="url(#pTanS)"/><ellipse cx="897.4" cy="534.9" rx="13.0" ry="6.6" fill="url(#pTanT)"/><ellipse cx="897.0" cy="534.2" rx="8.4" ry="4.6" fill="#6b5a8a" opacity="0.6"/><ellipse cx="896.6" cy="533.4" rx="5" ry="3" fill="#3a2a58"/><path d="M885.9 542.1 C891.4 547.6 903.4 547.6 908.9 542.1" stroke="#cfc4b8" stroke-width="0.9" fill="none" opacity="0.7"/>
<ellipse cx="941.5" cy="544.6" rx="13.0" ry="6.5" fill="#14443d" opacity="0.55" filter="url(#b1)"/><path d="M925.5 535.1 C925.5 540.6 926.1 543.1 927.9 545.1 C930.5 548.5 934.5 549.1 938.5 549.1 C942.5 549.1 946.5 548.5 949.1 545.1 C950.9 543.1 951.5 540.6 951.5 535.1 Z" fill="url(#pTanS)"/><ellipse cx="938.5" cy="535.1" rx="13.0" ry="6.6" fill="url(#pTanT)"/><ellipse cx="938.1" cy="534.5" rx="8.4" ry="4.6" fill="#3f9a90" opacity="0.6"/><ellipse cx="937.7" cy="533.7" rx="5" ry="3" fill="#135a56"/><path d="M927.0 542.4 C932.5 547.9 944.5 547.9 950.0 542.4" stroke="#cfc4b8" stroke-width="0.9" fill="none" opacity="0.7"/>
<rect x="894.5" y="564" width="4.5" height="3" fill="#e9f6f6"/><rect x="934" y="564" width="4.5" height="3" fill="#e9f6f6"/><rect x="1010" y="563.6" width="3.5" height="2.6" fill="#e9f6f6"/>
</g>
<g id="panelD">
<defs>
<radialGradient id="gPink" cx="0.5" cy="0.5" r="0.5"><stop offset="0" stop-color="#fad0d5"/><stop offset="0.8" stop-color="#f8c3cb"/><stop offset="1" stop-color="#f3a9b6"/></radialGradient>
<radialGradient id="gBlue" cx="0.42" cy="0.35" r="0.65"><stop offset="0" stop-color="#12a6dd"/><stop offset="0.7" stop-color="#0a8fcf"/><stop offset="1" stop-color="#0b6fb8"/></radialGradient>
<radialGradient id="gGray" cx="0.45" cy="0.4" r="0.6"><stop offset="0" stop-color="#dedede"/><stop offset="0.75" stop-color="#c9c9c9"/><stop offset="1" stop-color="#a9a9a9"/></radialGradient>
<radialGradient id="gCyan" cx="0.5" cy="0.5" r="0.5"><stop offset="0" stop-color="#9be7f3"/><stop offset="0.85" stop-color="#8fe2f2"/><stop offset="1" stop-color="#5fcdf0"/></radialGradient>
<radialGradient id="gBead" cx="0.4" cy="0.35" r="0.7"><stop offset="0" stop-color="#5a5f5c"/><stop offset="0.6" stop-color="#3a3e3c"/><stop offset="1" stop-color="#1f2221"/></radialGradient>
<g id="prot"><path d="M-2.6 -3.6 C-0.2 -4.6 2 -3.6 1.6 -2.2 C0.2 -1.6 0.2 1.6 1.6 2.2 C2 3.6 -0.2 4.6 -2.6 3.6 C-4.6 2.4 -4.6 -2.4 -2.6 -3.6Z" fill="#a5c67e"/><path d="M1.4 -1.8 C2.6 -3.8 4.8 -3.6 5.2 -2.2 C7 -3 8.6 -1.6 7.8 0 C8.6 1.6 7 3 5.2 2.2 C4.8 3.6 2.6 3.8 1.4 1.8 C0.6 0.8 0.6 -0.8 1.4 -1.8Z" fill="#5fb394"/><circle cx="7" cy="0" r="1.5" fill="#3fdc40"/></g>
<clipPath id="bcclip"><circle cx="538.2" cy="445.6" r="40.2"/></clipPath>
</defs>
<g id="cross1"><rect x="85.2" y="442.8" width="36.4" height="36.2" fill="#227e70"/>
<rect x="47.2" y="480.5" width="36.4" height="36.2" fill="#227e70"/>
<rect x="85.2" y="480.5" width="36.4" height="36.2" fill="#ffff00"/>
<rect x="123.1" y="480.5" width="36.4" height="36.2" fill="#227e70"/>
<rect x="47.2" y="518.3" width="36.4" height="36.2" fill="#227e70"/>
<rect x="85.2" y="518.3" width="36.4" height="36.2" fill="#ffff00"/>
<rect x="123.1" y="518.3" width="36.4" height="36.2" fill="#227e70"/>
<rect x="85.2" y="556.0" width="36.4" height="36.2" fill="#227e70"/></g>
<g id="cross2"><rect x="255.8" y="442.8" width="36.4" height="36.2" fill="#227e70"/>
<rect x="217.8" y="480.5" width="36.4" height="36.2" fill="#227e70"/>
<rect x="255.8" y="480.5" width="36.4" height="36.2" fill="#ffff00"/>
<rect x="293.7" y="480.5" width="36.4" height="36.2" fill="#227e70"/>
<rect x="217.8" y="518.3" width="36.4" height="36.2" fill="#227e70"/>
<rect x="255.8" y="518.3" width="36.4" height="36.2" fill="#ffff00"/>
<rect x="293.7" y="518.3" width="36.4" height="36.2" fill="#227e70"/>
<rect x="255.8" y="556.0" width="36.4" height="36.2" fill="#227e70"/></g>
<g id="cross3"><rect x="431.7" y="442.8" width="36.4" height="36.2" fill="#227e70"/>
<rect x="393.7" y="480.5" width="36.4" height="36.2" fill="#227e70"/>
<rect x="431.7" y="480.5" width="36.4" height="36.2" fill="#227e70"/>
<rect x="469.6" y="480.5" width="36.4" height="36.2" fill="#227e70"/>
<rect x="393.7" y="518.3" width="36.4" height="36.2" fill="#ffff00"/>
<rect x="431.7" y="518.3" width="36.4" height="36.2" fill="#227e70"/>
<rect x="469.6" y="518.3" width="36.4" height="36.2" fill="#ffff00"/>
<rect x="431.7" y="556.0" width="36.4" height="36.2" fill="#227e70"/></g>
<g id="cross4"><rect x="605.2" y="442.8" width="36.4" height="36.2" fill="#227e70"/>
<rect x="567.2" y="480.5" width="36.4" height="36.2" fill="#227e70"/>
<rect x="605.2" y="480.5" width="36.4" height="36.2" fill="#ffff00"/>
<rect x="643.1" y="480.5" width="36.4" height="36.2" fill="#227e70"/>
<rect x="567.2" y="518.3" width="36.4" height="36.2" fill="#227e70"/>
<rect x="605.2" y="518.3" width="36.4" height="36.2" fill="#227e70"/>
<rect x="643.1" y="518.3" width="36.4" height="36.2" fill="#227e70"/>
<rect x="605.2" y="556.0" width="36.4" height="36.2" fill="#227e70"/></g>
<rect x="85.7" y="515" width="36" height="5" fill="#ffff00"/><rect x="256.2" y="515" width="36" height="5" fill="#ffff00"/>
<line x1="85.7" y1="517.3" x2="121.7" y2="517.3" stroke="#f6f6cc" stroke-width="1.2"/><line x1="256.2" y1="517.3" x2="292.2" y2="517.3" stroke="#f6f6cc" stroke-width="1.2"/>
<line x1="171.5" y1="518.3" x2="196.5" y2="518.3" stroke="#0a0a0a" stroke-width="2.4"/><path d="M194.5 513.7 L204.5 518.3 L194.5 522.9 Z" fill="#0a0a0a"/>
<line x1="340.5" y1="517.2" x2="366.0" y2="517.2" stroke="#0a0a0a" stroke-width="2.4"/><path d="M364.0 512.6 L374.0 517.2 L364.0 521.8 Z" fill="#0a0a0a"/>
<line x1="521.5" y1="517.2" x2="546.3" y2="517.2" stroke="#0a0a0a" stroke-width="2.4"/><path d="M544.3 512.6 L554.3 517.2 L544.3 521.8 Z" fill="#0a0a0a"/>
<g id="pinkdrop"><circle cx="104.5" cy="472.6" r="19.4" fill="url(#gPink)"/><circle cx="95.8" cy="467.3" r="5" fill="#ee939d"/><circle cx="105.0" cy="462.6" r="5" fill="#ee939d"/><circle cx="106.0" cy="472.8" r="5" fill="#ee939d"/><circle cx="115.0" cy="472.0" r="5" fill="#ee939d"/><circle cx="96.3" cy="478.4" r="5" fill="#ee939d"/><circle cx="109.8" cy="480.4" r="5" fill="#ee939d"/><circle cx="101.8" cy="485.6" r="5" fill="#ee939d"/><circle cx="95.8" cy="467.3" r="2" fill="#dd6775"/><circle cx="105.0" cy="462.6" r="2" fill="#dd6775"/><circle cx="106.0" cy="472.8" r="2" fill="#dd6775"/><circle cx="115.0" cy="472.0" r="2" fill="#dd6775"/><circle cx="96.3" cy="478.4" r="2" fill="#dd6775"/><circle cx="109.8" cy="480.4" r="2" fill="#dd6775"/><circle cx="101.8" cy="485.6" r="2" fill="#dd6775"/></g>
<line x1="103.8" y1="492.5" x2="103.8" y2="507" stroke="#ee1a44" stroke-width="1.7"/><path d="M99.5 505.5 L108.1 505.5 L103.8 513 Z" fill="#ee1a44"/>
<line x1="103.8" y1="543" x2="103.8" y2="528" stroke="#ee1a44" stroke-width="1.7"/><path d="M99.5 529.5 L108.1 529.5 L103.8 522 Z" fill="#ee1a44"/>
<circle cx="104.6" cy="562.6" r="18.7" fill="#1d4f9c"/><circle cx="104.4" cy="561.7" r="17.4" fill="url(#gBlue)"/><circle cx="105.6" cy="553.6" r="3.2" fill="#6cc8ea" opacity="0.85"/>
<g id="lys">
<circle cx="187.6" cy="444" r="40.4" fill="#ffffff"/>
<path d="M188 424 C190 414 198 409 205 410 C208 406 214 409 215 414 C220 418 224 424 226 430 C230 434 228 442 222 442 C216 446 208 444 203 440 C196 440 186 434 188 424Z" fill="#fbdcdd" filter="url(#b2)"/>
<path d="M194 422 C196 414 203 411 207 416 C210 420 209 426 213 428 C218 428 223 430 222 435 C220 440 212 441 207 438 C201 437 192 432 194 422Z" fill="#f4a9ae" opacity="0.85" filter="url(#b1)"/>
<path d="M205 408 C207 406 210 409 209 412 C208 414 204 411 205 408Z" fill="#f4a9ae" opacity="0.8" filter="url(#b1)"/>
<path d="M223 438 C226 436 228 440 226 442 C224 443 222 440 223 438Z" fill="#f4a9ae" opacity="0.8" filter="url(#b1)"/>
<path d="M157.6 458.5 C157.6 446 167.5 437.4 180.5 437.4 C183.5 437.4 185.8 436.6 186.6 433.6 C186.6 431.8 186 430.8 186.4 430.2 C187.6 431.4 188.6 434.6 190.4 436.4 C191.4 435.6 192.4 435.6 192.8 436.6 C192.2 437.8 192 439.2 192.8 440.2 C194.2 440.4 195.2 441.2 195.4 442.6 C196.4 442.8 197 443.6 197 444.6 C199.4 444.8 202.6 444.6 204.8 445.4 C204.6 446.8 203 447.6 201.6 447.8 C202.6 451 203.2 454.8 203 458.5 C202.4 471.5 192.6 480.2 180.3 480.2 C167.5 480.2 157.6 471.5 157.6 458.5Z" fill="#cf4046"/>
<path d="M158.8 458.5 C158.8 447 168 438.6 180.5 438.6 C184 438.6 186.6 437.4 187.4 434.4 C188.2 436 189.2 437.4 190.6 438 C192 438.6 192 439.8 192.4 441 C193.8 441.4 194.6 442.2 194.8 443.6 C195.8 443.8 196.4 444.6 196.4 445.6 C198.4 445.8 201 445.6 203 446 C201.8 446.8 200.6 447.2 200 448.2 C201.4 451.4 201.9 454.8 201.8 458.5 C201.2 470.8 192.2 478.6 180.3 478.6 C168 478.6 158.8 470.8 158.8 458.5Z" fill="#e7595c"/>
<path d="M161 454 C162 446 169 441 178 440.4 C170 443 164.6 448 163 456 C162.6 458 160.8 457 161 454Z" fill="#f08a8a" opacity="0.75"/>
<path d="M163 470 C170 479 190 480 198 468 C192 476 172 478 163 470Z" fill="#c93a40" opacity="0.5"/>
<circle cx="181.4" cy="458" r="7.3" fill="#8f252a"/>
<g transform="translate(173.0 448.8) rotate(-90) scale(0.72)"><use href="#prot"/></g><g transform="translate(188.8 447.8) rotate(35) scale(0.70)"><use href="#prot"/></g><g transform="translate(167.8 459.6) rotate(140) scale(0.70)"><use href="#prot"/></g><g transform="translate(191.0 465.2) rotate(25) scale(0.70)"><use href="#prot"/></g><g transform="translate(179.8 470.4) rotate(150) scale(0.70)"><use href="#prot"/></g><g transform="translate(197.5 426.5) rotate(-90) scale(0.90)"><use href="#prot"/></g><g transform="translate(200.5 435.5) rotate(-60) scale(0.90)"><use href="#prot"/></g><g transform="translate(209.5 437.5) rotate(-20) scale(0.90)"><use href="#prot"/></g>
<g fill="#b82a35"><circle cx="190.2" cy="414" r="1.5"/><circle cx="199.7" cy="417.7" r="1.1"/><circle cx="208.8" cy="417.7" r="0.8"/><circle cx="217.9" cy="442.6" r="1.3"/><circle cx="208.8" cy="447.4" r="0.9"/><circle cx="209.5" cy="430.5" r="0.8"/><circle cx="195.5" cy="431.5" r="0.7"/></g>
<circle cx="215" cy="421.8" r="0.9" fill="#e99aa2"/>
<circle cx="187.6" cy="444" r="40.4" fill="none" stroke="#f5b52e" stroke-width="1.5" stroke-dasharray="2.6 1.2"/>
</g>
<g id="graydrop"><circle cx="274.5" cy="465" r="20" fill="#b9b9b9"/><circle cx="274.2" cy="464.6" r="18.8" fill="url(#gGray)"/><g fill="#7d7d7d"><circle cx="268.0" cy="456.0" r="0.7"/><circle cx="276.0" cy="454.0" r="0.7"/><circle cx="282.0" cy="459.0" r="0.7"/><circle cx="271.0" cy="463.0" r="0.7"/><circle cx="278.0" cy="465.0" r="0.7"/><circle cx="285.0" cy="467.0" r="0.7"/><circle cx="267.0" cy="470.0" r="0.7"/><circle cx="274.0" cy="472.0" r="0.7"/><circle cx="281.0" cy="474.0" r="0.7"/><circle cx="272.0" cy="478.0" r="0.7"/><circle cx="277.0" cy="459.5" r="0.7"/><circle cx="264.0" cy="463.0" r="0.7"/><circle cx="283.0" cy="470.0" r="0.7"/><circle cx="269.0" cy="475.0" r="0.7"/></g><ellipse cx="266" cy="452.5" rx="4" ry="2.5" fill="#f4f4f4" opacity="0.8"/></g>
<line x1="274.3" y1="490" x2="274.3" y2="507" stroke="#ee1a44" stroke-width="1.7"/><path d="M270 505.5 L278.6 505.5 L274.3 513 Z" fill="#ee1a44"/>
<path d="M252 540.3 L274.3 540.3 L274.3 529" fill="none" stroke="#ee1a44" stroke-width="1.7"/><path d="M270 529.8 L278.6 529.8 L274.3 522 Z" fill="#ee1a44"/>
<g id="cyandrop"><circle cx="235.6" cy="540.2" r="18" fill="#5ccdf0"/><circle cx="235.6" cy="540.2" r="16.6" fill="url(#gCyan)"/><g transform="translate(228.5 537.0) rotate(-90) scale(0.75)"><use href="#prot"/></g><g transform="translate(240.5 535.5) rotate(-90) scale(0.75)"><use href="#prot"/></g><g transform="translate(243.5 545.5) rotate(-80) scale(0.75)"><use href="#prot"/></g><g transform="translate(231.5 550.0) rotate(-90) scale(0.75)"><use href="#prot"/></g><path d="M221.5 541.5 q2 -3 4 0" stroke="#d4a640" stroke-width="1.5" fill="none"/><path d="M245 552 q2 -3 4 0" stroke="#d4a640" stroke-width="1.5" fill="none"/><path d="M226 529.5 q2 -3 4 0" stroke="#d4a640" stroke-width="1.5" fill="none"/><path d="M236 528 q2 -2.4 4 0" stroke="#d4a640" stroke-width="1.3" fill="none"/></g>
<g id="magnet">
<path d="M400 525.6 L389.8 525.6 A14 14 0 0 0 375.8 539.6 L384 539.6 A6 6 0 0 1 390 533.4 L400 533.4 Z" fill="#5f80c4"/>
<path d="M400 553.6 L389.8 553.6 A14 14 0 0 1 375.8 539.6 L384 539.6 A6 6 0 0 0 390 545.8 L400 545.8 Z" fill="#dc5252"/>
<rect x="400" y="525.6" width="7.6" height="7.8" fill="#8c8c8c"/><rect x="400" y="545.8" width="7.6" height="7.8" fill="#8c8c8c"/>
<g stroke="#e0c050" stroke-width="0.9"><line x1="410.5" y1="528" x2="413" y2="528"/><line x1="410.5" y1="531" x2="413" y2="531"/><line x1="410.5" y1="548" x2="413" y2="548"/><line x1="410.5" y1="551" x2="413" y2="551"/></g>
</g>
<path d="M420.3 535.8 A6.8 6.8 0 0 1 433 532.6 C441 536.5 452 536.5 459 528 A16.4 16.4 0 1 1 459 543.4 C452 535.5 441 536.5 433 539.6 A6.8 6.8 0 0 1 420.3 535.8 Z" fill="#d2ebf4" stroke="#69bfe0" stroke-width="1.2"/>
<ellipse cx="426.2" cy="536" rx="4.3" ry="4.9" fill="#4a4a4a"/>
<g id="beadcirc"><circle cx="538.2" cy="445.6" r="40.5" fill="#ffffff"/><path d="M540.5 438.2 L540.5 434.2 M540.5 434.2 L538.2 431.2 M540.5 434.2 L542.8 431.2 M549.0 442.9 L552.4 440.8 M552.4 440.8 L553.7 437.2 M552.4 440.8 L556.2 441.2 M549.9 451.6 L553.7 453.0 M553.7 453.0 L557.3 451.8 M553.7 453.0 L555.7 456.2 M540.5 458.2 L540.5 462.2 M540.5 462.2 L542.8 465.2 M540.5 462.2 L538.2 465.2 M531.6 452.7 L528.0 454.6 M528.0 454.6 L526.4 458.0 M528.0 454.6 L524.3 453.8 M531.6 443.7 L528.0 441.8 M528.0 441.8 L524.3 442.6 M528.0 441.8 L526.4 438.4" stroke="#c99a4c" stroke-width="1.5" fill="none" stroke-linecap="round"/><circle cx="540.5" cy="448.2" r="10" fill="#232625"/><circle cx="540.2" cy="447.8" r="8.9" fill="url(#gBead)"/><circle cx="538" cy="445.2" r="2" fill="#8d918f" opacity="0.85"/><g clip-path="url(#bcclip)"><g transform="translate(530.7 429.5) rotate(-105) scale(1.00)"><use href="#prot"/></g><g transform="translate(513.6 436.6) rotate(150) scale(1.00)"><use href="#prot"/></g><g transform="translate(520.2 455.0) rotate(182) scale(1.00)"><use href="#prot"/></g><g transform="translate(540.5 469.6) rotate(18) scale(1.00)"><use href="#prot"/></g><g transform="translate(558.8 455.8) rotate(20) scale(1.00)"><use href="#prot"/></g><g transform="translate(556.4 437.6) rotate(-58) scale(1.00)"><use href="#prot"/></g><g transform="translate(539.8 407.6) rotate(8) scale(1.00)"><use href="#prot"/></g><g transform="translate(531.0 486.5) rotate(200) scale(1.00)"><use href="#prot"/></g></g><circle cx="538.2" cy="445.6" r="40.5" fill="none" stroke="#f5b52e" stroke-width="1.5" stroke-dasharray="2.6 1.2"/></g>
<g id="purp"><circle cx="622.9" cy="478.2" r="18.2" fill="#6c4a8e"/><circle cx="622.9" cy="481" r="15.4" fill="#8a5ba3"/><circle cx="622.6" cy="486" r="5.8" fill="#b08cc4"/></g>
<path d="M624.2 500 L624.2 537.2 L612 537.2" fill="none" stroke="#ee1a44" stroke-width="1.7"/><path d="M613.5 533 L613.5 541.4 L606 537.2 Z" fill="#ee1a44"/>
<circle cx="596" cy="540.4" r="7.4" fill="#d2ebf4"/><ellipse cx="596" cy="540.5" rx="4.4" ry="5.2" fill="#4a4a4a"/>
<g id="legend">
<ellipse cx="79.6" cy="641.3" rx="13.2" ry="12.6" fill="#f0969c"/><ellipse cx="79.8" cy="641.4" rx="9.4" ry="8.8" fill="#ee8f96" opacity="0.7"/><ellipse cx="82" cy="641.2" rx="5.2" ry="4.6" fill="#dc6e78"/>
<path d="M177.0 632.8 L177.0 629.8 M177.0 629.8 L175.0 627.3 M177.0 629.8 L179.0 627.3 M183.9 636.8 L186.5 635.3 M186.5 635.3 L187.7 632.3 M186.5 635.3 L189.7 635.7 M183.9 644.8 L186.5 646.3 M186.5 646.3 L189.7 645.9 M186.5 646.3 L187.7 649.3 M177.0 648.8 L177.0 651.8 M177.0 651.8 L179.0 654.3 M177.0 651.8 L175.0 654.3 M170.1 644.8 L167.5 646.3 M167.5 646.3 L166.3 649.3 M167.5 646.3 L164.3 645.9 M170.1 636.8 L167.5 635.3 M167.5 635.3 L164.3 635.7 M167.5 635.3 L166.3 632.3" stroke="#dba43c" stroke-width="1.4" fill="none" stroke-linecap="round"/>
<circle cx="177" cy="640.8" r="8.3" fill="#232625"/><circle cx="176.8" cy="640.5" r="7.4" fill="url(#gBead)"/><circle cx="174.7" cy="638" r="1.6" fill="#8a8f8c" opacity="0.8"/>
<path d="M401.5 645.1 C402 641.5 404 639.6 406.5 639.6 C409 639.6 411.5 641.4 413.9 640.7 C417 639.6 417.6 634.6 419.3 631.8 C420.6 629.8 423 629.4 424.8 630.1 C427.4 631.2 428.4 633.6 428.2 636.3 C428 639.4 427.6 642 426.3 644.3 C424.6 647.4 421.8 649.4 418.4 650.5 C415 651.8 411.4 653.3 407.7 653.1 C405.4 653 403.4 652.2 402.4 650.5 C401.4 648.8 401.2 647 401.5 645.1Z" fill="#a3cb7b"/>
<path d="M404 646 C406 643 410 644.5 414 643 C418 641.5 420 637 422 633.5 C424 634.5 424.6 638 423.4 641.5 C421.6 646 417 648 412 649.6 C408.6 650.6 405 650.6 404 646Z" fill="#94c06c" opacity="0.6"/>
<path d="M534.5 634.5 C533.2 638 533 642 533.6 645.1 C534.4 647.8 536.4 648.9 538.9 648.7 C541.4 648.5 544.2 648.2 546 649.6 C547.4 651 546.4 653.2 546.9 654.9 C547.7 656.8 550 657.6 552.2 657.2 C555.2 656.6 557.4 655.4 558.4 653.1 C559.6 650.4 559.6 647.6 560.2 645.1 C561 641.6 562.2 638.2 562 634.5 C561.8 631 561.2 627.8 559.3 625.6 C557.8 624 555.6 623.2 554 623.9 C551.8 624.8 550.4 626.2 550.4 628.3 C550.4 630.4 551.6 632.4 551.3 634.5 C551 636.2 549.6 637.2 547.8 637.2 C545.4 637.2 543 637.6 540.7 637.2 C538.8 636.8 538.2 634.6 537.1 633.6 C536.2 632.8 535 633.2 534.5 634.5Z" fill="#69b98c"/>
<path d="M536 641 C538 644 542 645 546 645 C549 645.5 550 649 552 652 C555 651 556.6 647 557.4 643 C558.4 638 559.6 633 557.4 628.6 C556 634 555 640 551 641.6 C546 643 540 642 536 641Z" fill="#5aad80" opacity="0.55"/>
<path d="M538 623 L541 620.6 L544.2 620.3 L547.6 620.4 L550.4 622.1 L551.9 625.6 L551.7 629.2 L551.3 632.6 L550.4 635.4 L545.6 636.4 L540.7 636.3 L539.4 632.8 L538.9 629.2 L537.7 626Z" fill="#3cd73c"/>
<path d="M542.2 625.4 L546 624.8 L547.6 628 L546.4 631.4 L543 631 L541.6 628.2Z" fill="#a8f0a8"/>
</g>
</g>
<g id="overlay" opacity="0.999">

<!-- panel letters -->
<text class="sb" transform="translate(8.9 60) scale(0.92 1)" font-size="33">A</text>
<text class="sb" transform="translate(746.4 47.9) scale(0.92 1)" font-size="31.7">B</text>
<text class="sb" transform="translate(744.2 377.2) scale(0.87 1)" font-size="33.4">C</text>
<text class="sb" transform="translate(5.8 368.6) scale(0.913 1)" font-size="32.1">D</text>

<!-- red dashed rect on photo -->
<g fill="none" stroke="#fe0808" stroke-width="2.4"><path d="M301.6 79.8 L641.8 79.8" stroke-dasharray="9.4 6.8"/><path d="M301 86 L301 257.5" stroke-dasharray="9.9 6.1"/><path d="M301 257.5 L641.8 257.5" stroke-dasharray="9.4 6.8"/><path d="M641.7 79.8 L641.7 257.5" stroke-dasharray="9.9 6.1"/></g>
<line x1="642" y1="79.3" x2="718" y2="12.2" stroke="#fe0808" stroke-width="2.3" stroke-dasharray="9.8 6.4"/>
<line x1="644.8" y1="261.3" x2="718" y2="318.8" stroke="#fe0808" stroke-width="2.3" stroke-dasharray="9.8 6.4"/>
<!-- B frame -->
<rect x="718.05" y="12.4" width="493.7" height="312.05" fill="none" stroke="#ff0a0a" stroke-width="2.6"/>
<!-- B inner dashed -->
<g fill="none" stroke="#fe0808" stroke-width="2.3">
<path d="M936.7 126 L936.7 115.3 L948 115.3 M955.5 115.3 L964.3 115.3 M971.9 115.3 L980.7 115.3 M988.3 115.3 L998.4 115.3 L998.4 121"/>
<path d="M998.4 128.5 L998.4 172" stroke-dasharray="9.6 6.6"/>
<path d="M936.7 133 L936.7 172" stroke-dasharray="9.6 6.2"/>
<path d="M936.7 164 L936.7 172 L946.5 172 M953.6 172 L962.4 172 M969.6 181 L969.6 172 L978.5 172 M986 172 L994.5 172"/>
<path d="M969.7 187.5 L969.7 362" stroke-dasharray="9.2 7.3"/>
</g>
<path d="M964.6 365 L969.8 374.6 L975.3 365" fill="none" stroke="#fe0808" stroke-width="2.6" stroke-linecap="round" stroke-linejoin="miter"/>

<!-- B labels -->
<text class="lb" x="750" y="84">Top holder</text>
<text class="lb" x="747.5" y="111.5">Top plate</text>
<text class="lb" x="734" y="151">Bottom plate</text>
<text class="lb" x="728.5" y="199">Bottom holder</text>
<text class="lb" x="728.5" y="239.5">TEC and cooling</text>
<text class="lb" x="761" y="258.8">radiator</text>
<text class="lb" x="736" y="307.5">Control circuit</text>
<text class="lb" x="1066" y="317">Lithium battery</text>

<!-- C labels -->
<text class="lr" x="888" y="457.9">Cell</text>
<text class="lr" x="931" y="456.1">Magnetic Beads</text>
<text class="lr" x="1033" y="482.4">Protease Inhibitor</text>
<text class="lr" x="865.3" y="580.8">Lysis</text>
<text class="lr" x="862" y="599.3">Buffer</text>
<text class="lr" x="914" y="580.8">Washing</text>
<text class="lr" x="924" y="599.3">Buffer</text>
<text class="lr" x="999" y="580.8">Waste</text>
<text class="lr" x="985.5" y="599.3">Reservoir</text>
<text x="864.2" y="654.6" font-family="Liberation Sans, sans-serif" font-weight="bold" font-size="26.55" fill="#0a0a0a">LTDMF-PPI Chip</text>

<!-- C dashed rect + arrow -->
<rect x="886.3" y="492.5" width="169.6" height="31.6" fill="none" stroke="#060606" stroke-width="2.3" stroke-dasharray="8.5 8.27"/>
<line x1="879.7" y1="508.5" x2="713" y2="508.5" stroke="#060606" stroke-width="2.3" stroke-dasharray="9.7 8.85"/>
<path d="M721.8 501.9 L712.3 508.5 L721.8 514.4" fill="none" stroke="#060606" stroke-width="2.4" stroke-linejoin="miter"/><line x1="712.8" y1="508.5" x2="730.6" y2="508.5" stroke="#060606" stroke-width="2.3"/>

<!-- D frame -->
<rect x="33.0" y="341.1" width="671.1" height="330.3" fill="none" stroke="#050505" stroke-width="2.6"/>
<text class="hd" x="69" y="387">Cell lysis</text>
<text class="hd" x="252.5" y="387">Mixing</text>
<text class="hd" x="398" y="387">Separation</text>
<text class="hd" x="575" y="388">Pretreatment</text>
<text class="lg" x="97.5" y="647.8">Cell</text>
<text class="lg" x="195.5" y="647">Antibody-Myc-Bead</text>
<text class="lg" x="439.5" y="646">Rab26</text>
<text class="lg" x="577.5" y="648">GFP-RILP</text>
</g>
</svg>
</body>
</html>
